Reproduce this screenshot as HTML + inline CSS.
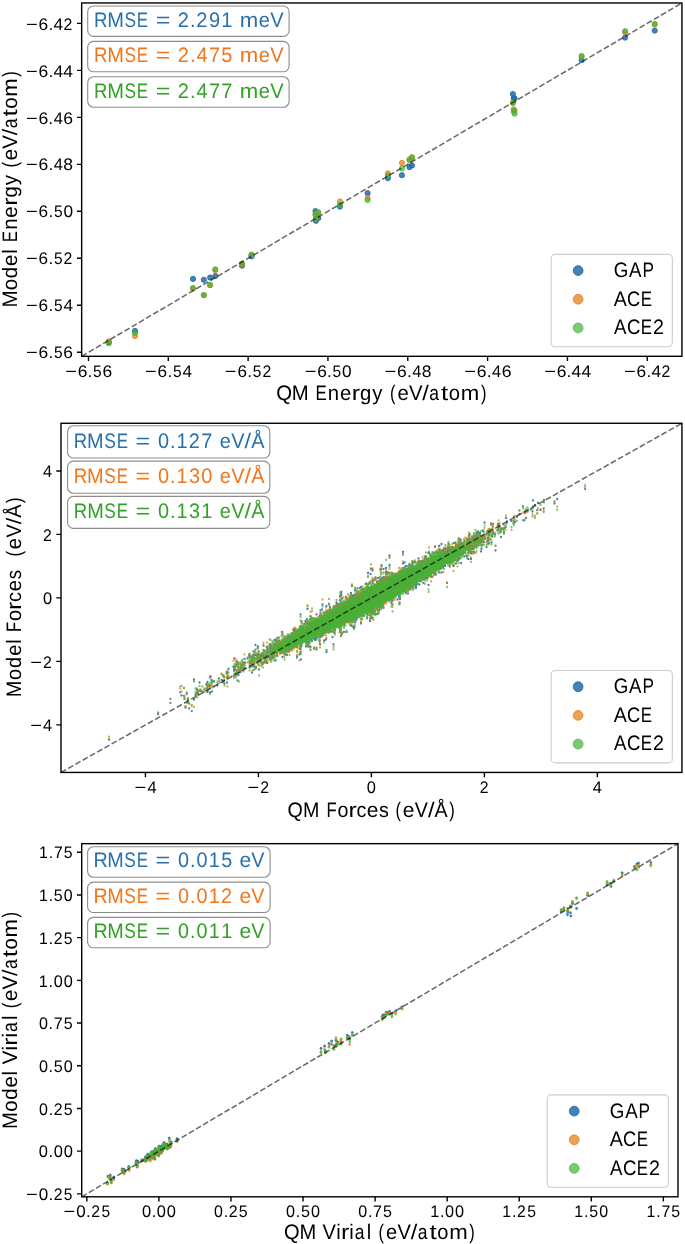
<!DOCTYPE html><html><head><meta charset="utf-8"><title>Parity plots</title><style>html,body{margin:0;padding:0;background:#fff;width:685px;height:1244px;overflow:hidden}svg{display:block;will-change:transform}text{font-family:"Liberation Sans",sans-serif;white-space:pre;text-rendering:geometricPrecision}</style></head><body><svg xml:space="preserve" width="685" height="1244" viewBox="0 0 685 1244" font-family="Liberation Sans, sans-serif">
<rect width="685" height="1244" fill="#fff"/>
<g fill="rgb(33,108,169)" fill-opacity="0.85" stroke="rgb(33,108,169)" stroke-opacity="0.85" stroke-width="1.0"><circle cx="108.8" cy="342.5" r="2.6"/><circle cx="135.0" cy="330.9" r="2.6"/><circle cx="193.0" cy="278.9" r="2.6"/><circle cx="203.8" cy="279.8" r="2.6"/><circle cx="210.1" cy="277.5" r="2.6"/><circle cx="215.3" cy="276.0" r="2.6"/><circle cx="242.0" cy="265.6" r="2.6"/><circle cx="251.5" cy="256.4" r="2.6"/><circle cx="315.5" cy="211.0" r="2.6"/><circle cx="318.3" cy="218.0" r="2.6"/><circle cx="316.0" cy="220.8" r="2.6"/><circle cx="339.9" cy="206.6" r="2.6"/><circle cx="367.6" cy="193.2" r="2.6"/><circle cx="387.9" cy="178.1" r="2.6"/><circle cx="401.9" cy="175.2" r="2.6"/><circle cx="409.5" cy="167.2" r="2.6"/><circle cx="412.0" cy="165.4" r="2.6"/><circle cx="512.9" cy="94.0" r="2.6"/><circle cx="513.7" cy="98.0" r="2.6"/><circle cx="514.6" cy="98.5" r="2.6"/><circle cx="581.6" cy="60.1" r="2.6"/><circle cx="625.1" cy="37.6" r="2.6"/><circle cx="654.7" cy="30.6" r="2.6"/></g>
<g fill="rgb(229,119,16)" fill-opacity="0.7" stroke="rgb(229,119,16)" stroke-opacity="0.7" stroke-width="1.0"><circle cx="108.8" cy="341.2" r="2.6"/><circle cx="135.0" cy="336.1" r="2.6"/><circle cx="193.0" cy="288.6" r="2.6"/><circle cx="203.8" cy="295.3" r="2.6"/><circle cx="210.1" cy="285.2" r="2.6"/><circle cx="215.3" cy="270.2" r="2.6"/><circle cx="242.0" cy="264.2" r="2.6"/><circle cx="251.5" cy="255.0" r="2.6"/><circle cx="315.5" cy="214.2" r="2.6"/><circle cx="318.3" cy="213.0" r="2.6"/><circle cx="316.0" cy="218.6" r="2.6"/><circle cx="339.9" cy="201.4" r="2.6"/><circle cx="367.6" cy="198.1" r="2.6"/><circle cx="387.9" cy="173.3" r="2.6"/><circle cx="401.9" cy="162.9" r="2.6"/><circle cx="409.5" cy="159.3" r="2.6"/><circle cx="412.0" cy="158.0" r="2.6"/><circle cx="512.9" cy="103.0" r="2.6"/><circle cx="513.7" cy="111.5" r="2.6"/><circle cx="514.6" cy="110.7" r="2.6"/><circle cx="581.6" cy="55.8" r="2.6"/><circle cx="625.1" cy="32.1" r="2.6"/><circle cx="654.7" cy="24.6" r="2.6"/></g>
<g fill="rgb(65,181,55)" fill-opacity="0.7" stroke="rgb(65,181,55)" stroke-opacity="0.7" stroke-width="1.0"><circle cx="108.8" cy="343.2" r="2.6"/><circle cx="135.0" cy="333.0" r="2.6"/><circle cx="193.0" cy="288.0" r="2.6"/><circle cx="203.8" cy="295.0" r="2.6"/><circle cx="210.1" cy="284.8" r="2.6"/><circle cx="215.3" cy="269.3" r="2.6"/><circle cx="242.0" cy="263.6" r="2.6"/><circle cx="251.5" cy="254.5" r="2.6"/><circle cx="315.5" cy="214.6" r="2.6"/><circle cx="318.3" cy="212.2" r="2.6"/><circle cx="316.0" cy="218.1" r="2.6"/><circle cx="339.9" cy="204.9" r="2.6"/><circle cx="367.6" cy="200.1" r="2.6"/><circle cx="387.9" cy="175.5" r="2.6"/><circle cx="401.9" cy="168.5" r="2.6"/><circle cx="409.5" cy="160.3" r="2.6"/><circle cx="412.0" cy="157.1" r="2.6"/><circle cx="512.9" cy="102.8" r="2.6"/><circle cx="513.7" cy="109.3" r="2.6"/><circle cx="514.6" cy="113.7" r="2.6"/><circle cx="581.6" cy="56.9" r="2.6"/><circle cx="625.1" cy="31.2" r="2.6"/><circle cx="654.7" cy="23.8" r="2.6"/></g>
<line x1="81.66" y1="356.30" x2="681.93" y2="2.96" stroke="#000" stroke-opacity="0.6" stroke-width="1.5" stroke-dasharray="5.8 2.5"/>
<rect x="81.66" y="2.96" width="600.27" height="353.34" fill="none" stroke="#000" stroke-width="1.4"/>
<path d="M88.46 356.30v4.7M168.29 356.30v4.7M248.12 356.30v4.7M327.94 356.30v4.7M407.77 356.30v4.7M487.60 356.30v4.7M567.43 356.30v4.7M647.26 356.30v4.7M81.66 352.26h-4.7M81.66 305.28h-4.7M81.66 258.30h-4.7M81.66 211.32h-4.7M81.66 164.34h-4.7M81.66 117.36h-4.7M81.66 70.38h-4.7M81.66 23.40h-4.7" stroke="#000" stroke-width="1.4" fill="none"/>
<text transform="scale(1.0375,1)" x="62.87 74.94 84.44 89.73 98.85" y="376.60" font-size="16.78" fill="#000"><tspan textLength="11.31" lengthAdjust="spacingAndGlyphs">−</tspan>6.<tspan textLength="8.33" lengthAdjust="spacingAndGlyphs">5</tspan>6</text>
<text transform="scale(1.0283,1)" x="141.07 153.28 162.85 168.17 177.41" y="376.60" font-size="16.78" fill="#000"><tspan textLength="11.41" lengthAdjust="spacingAndGlyphs">−</tspan>6.<tspan textLength="8.40" lengthAdjust="spacingAndGlyphs">5</tspan>4</text>
<text transform="scale(1.0212,1)" x="220.21 232.54 242.16 247.49 256.98" y="376.60" font-size="16.78" fill="#000"><tspan textLength="11.49" lengthAdjust="spacingAndGlyphs">−</tspan>6.<tspan textLength="8.46" lengthAdjust="spacingAndGlyphs">5</tspan><tspan textLength="8.63" lengthAdjust="spacingAndGlyphs">2</tspan></text>
<text transform="scale(1.0291,1)" x="296.10 308.30 317.87 323.18 332.41" y="376.60" font-size="16.78" fill="#000"><tspan textLength="11.40" lengthAdjust="spacingAndGlyphs">−</tspan>6.<tspan textLength="8.40" lengthAdjust="spacingAndGlyphs">5</tspan>0</text>
<text transform="scale(1.0432,1)" x="368.61 380.58 390.05 395.14 404.37" y="376.60" font-size="16.78" fill="#000"><tspan textLength="11.25" lengthAdjust="spacingAndGlyphs">−</tspan>6.<tspan textLength="8.76" lengthAdjust="spacingAndGlyphs">4</tspan>8</text>
<text transform="scale(1.0493,1)" x="442.56 454.43 463.86 468.93 478.08" y="376.60" font-size="16.78" fill="#000"><tspan textLength="11.18" lengthAdjust="spacingAndGlyphs">−</tspan>6.<tspan textLength="8.71" lengthAdjust="spacingAndGlyphs">4</tspan>6</text>
<text transform="scale(1.0400,1)" x="523.28 535.30 544.79 549.62 559.16" y="376.60" font-size="16.78" fill="#000"><tspan textLength="11.28" lengthAdjust="spacingAndGlyphs">−</tspan>6.44</text>
<text transform="scale(1.0333,1)" x="603.89 616.03 625.56 630.43 640.24" y="376.60" font-size="16.78" fill="#000"><tspan textLength="11.36" lengthAdjust="spacingAndGlyphs">−</tspan>6.4<tspan textLength="8.53" lengthAdjust="spacingAndGlyphs">2</tspan></text>
<text transform="scale(1.0375,1)" x="25.08 37.15 46.66 51.94 61.06" y="358.41" font-size="16.78" fill="#000"><tspan textLength="11.31" lengthAdjust="spacingAndGlyphs">−</tspan>6.<tspan textLength="8.33" lengthAdjust="spacingAndGlyphs">5</tspan>6</text>
<text transform="scale(1.0283,1)" x="25.31 37.52 47.09 52.41 61.65" y="311.43" font-size="16.78" fill="#000"><tspan textLength="11.41" lengthAdjust="spacingAndGlyphs">−</tspan>6.<tspan textLength="8.40" lengthAdjust="spacingAndGlyphs">5</tspan>4</text>
<text transform="scale(1.0212,1)" x="25.48 37.81 47.43 52.77 62.26" y="264.45" font-size="16.78" fill="#000"><tspan textLength="11.49" lengthAdjust="spacingAndGlyphs">−</tspan>6.<tspan textLength="8.46" lengthAdjust="spacingAndGlyphs">5</tspan><tspan textLength="8.63" lengthAdjust="spacingAndGlyphs">2</tspan></text>
<text transform="scale(1.0291,1)" x="25.29 37.49 47.05 52.37 61.60" y="217.47" font-size="16.78" fill="#000"><tspan textLength="11.40" lengthAdjust="spacingAndGlyphs">−</tspan>6.<tspan textLength="8.40" lengthAdjust="spacingAndGlyphs">5</tspan>0</text>
<text transform="scale(1.0432,1)" x="24.95 36.92 46.39 51.47 60.71" y="170.49" font-size="16.78" fill="#000"><tspan textLength="11.25" lengthAdjust="spacingAndGlyphs">−</tspan>6.<tspan textLength="8.76" lengthAdjust="spacingAndGlyphs">4</tspan>8</text>
<text transform="scale(1.0493,1)" x="24.80 36.68 46.10 51.17 60.32" y="123.51" font-size="16.78" fill="#000"><tspan textLength="11.18" lengthAdjust="spacingAndGlyphs">−</tspan>6.<tspan textLength="8.71" lengthAdjust="spacingAndGlyphs">4</tspan>6</text>
<text transform="scale(1.0400,1)" x="25.02 37.05 46.54 51.36 60.91" y="76.53" font-size="16.78" fill="#000"><tspan textLength="11.28" lengthAdjust="spacingAndGlyphs">−</tspan>6.44</text>
<text transform="scale(1.0333,1)" x="25.18 37.32 46.85 51.72 61.53" y="29.55" font-size="16.78" fill="#000"><tspan textLength="11.36" lengthAdjust="spacingAndGlyphs">−</tspan>6.4<tspan textLength="8.53" lengthAdjust="spacingAndGlyphs">2</tspan></text>
<text transform="scale(0.9673,1)" x="285.69 301.74 319.46 326.12 338.92 351.50 363.63 372.22 384.94 396.44 403.24 410.83 422.74 436.62 443.86 455.91 464.01 476.32 497.15" y="400.00" font-size="20.97" fill="#000">QM <tspan textLength="11.66" lengthAdjust="spacingAndGlyphs">E</tspan>ne<tspan textLength="8.56" lengthAdjust="spacingAndGlyphs">r</tspan>gy <tspan textLength="5.67" lengthAdjust="spacingAndGlyphs">(</tspan>eV<tspan textLength="6.79" lengthAdjust="spacingAndGlyphs">/</tspan><tspan textLength="10.08" lengthAdjust="spacingAndGlyphs">a</tspan><tspan textLength="7.46" lengthAdjust="spacingAndGlyphs">t</tspan>o<tspan textLength="19.12" lengthAdjust="spacingAndGlyphs">m</tspan><tspan textLength="5.67" lengthAdjust="spacingAndGlyphs">)</tspan></text>
<text transform="rotate(-90) scale(0.9763,1)" x="-315.01 -297.38 -285.06 -272.41 -260.02 -254.66 -248.04 -235.40 -222.94 -210.87 -202.41 -189.81 -178.39 -171.63 -164.15 -152.37 -138.55 -131.38 -119.45 -111.47 -99.22 -78.58" y="17.20" font-size="20.97" fill="#000">Model <tspan textLength="11.55" lengthAdjust="spacingAndGlyphs">E</tspan>ne<tspan textLength="8.48" lengthAdjust="spacingAndGlyphs">r</tspan>gy <tspan textLength="5.62" lengthAdjust="spacingAndGlyphs">(</tspan>eV<tspan textLength="6.73" lengthAdjust="spacingAndGlyphs">/</tspan><tspan textLength="9.98" lengthAdjust="spacingAndGlyphs">a</tspan><tspan textLength="7.39" lengthAdjust="spacingAndGlyphs">t</tspan>o<tspan textLength="18.94" lengthAdjust="spacingAndGlyphs">m</tspan><tspan textLength="5.62" lengthAdjust="spacingAndGlyphs">)</tspan></text>
<rect x="87.70" y="6.00" width="201.40" height="30.40" rx="5.85" fill="#fff" fill-opacity="0.5" stroke="#000" stroke-opacity="0.45" stroke-width="1.1"/>
<text transform="scale(0.9560,1)" x="98.25 112.09 130.15 143.12 155.79 162.82 179.36 185.90 198.81 205.36 218.54 231.49 244.24 250.72 270.74 282.80" y="26.75" font-size="20.97" fill="rgb(40,112,172)"><tspan textLength="14.09" lengthAdjust="spacingAndGlyphs">R</tspan>M<tspan textLength="12.12" lengthAdjust="spacingAndGlyphs">S</tspan><tspan textLength="11.80" lengthAdjust="spacingAndGlyphs">E</tspan> <tspan textLength="15.34" lengthAdjust="spacingAndGlyphs">=</tspan> 2.291 <tspan textLength="19.34" lengthAdjust="spacingAndGlyphs">m</tspan>eV</text>
<rect x="87.70" y="41.40" width="201.40" height="30.40" rx="5.85" fill="#fff" fill-opacity="0.5" stroke="#000" stroke-opacity="0.45" stroke-width="1.1"/>
<text transform="scale(0.9540,1)" x="98.46 112.34 130.43 143.42 156.12 163.16 179.74 186.30 199.23 206.07 219.04 232.00 244.76 251.24 271.32 283.41" y="62.10" font-size="20.97" fill="rgb(240,118,28)"><tspan textLength="14.11" lengthAdjust="spacingAndGlyphs">R</tspan>M<tspan textLength="12.14" lengthAdjust="spacingAndGlyphs">S</tspan><tspan textLength="11.82" lengthAdjust="spacingAndGlyphs">E</tspan> <tspan textLength="15.37" lengthAdjust="spacingAndGlyphs">=</tspan> 2.475 <tspan textLength="19.38" lengthAdjust="spacingAndGlyphs">m</tspan>eV</text>
<rect x="87.70" y="76.80" width="201.40" height="30.40" rx="5.85" fill="#fff" fill-opacity="0.5" stroke="#000" stroke-opacity="0.45" stroke-width="1.1"/>
<text transform="scale(0.9563,1)" x="98.22 112.05 130.11 143.07 155.74 162.77 179.30 185.84 198.75 205.56 218.50 231.47 244.16 250.64 270.66 282.71" y="97.50" font-size="20.97" fill="rgb(52,160,40)"><tspan textLength="14.08" lengthAdjust="spacingAndGlyphs">R</tspan>M<tspan textLength="12.11" lengthAdjust="spacingAndGlyphs">S</tspan><tspan textLength="11.79" lengthAdjust="spacingAndGlyphs">E</tspan> <tspan textLength="15.34" lengthAdjust="spacingAndGlyphs">=</tspan> 2.477 <tspan textLength="19.34" lengthAdjust="spacingAndGlyphs">m</tspan>eV</text>
<rect x="551.13" y="254.40" width="121.20" height="92.30" rx="3.9" fill="#fff" fill-opacity="0.8" stroke="#ccc" stroke-width="1.1"/>
<circle cx="578.13" cy="270.60" r="4.9" fill="rgb(33,108,169)" fill-opacity="0.85" stroke="rgb(33,108,169)" stroke-opacity="0.85" stroke-width="1"/>
<text transform="scale(0.8936,1)" x="686.87 703.97 718.99" y="277.00" font-size="20.97" fill="#000">GA<tspan textLength="12.89" lengthAdjust="spacingAndGlyphs">P</tspan></text>
<circle cx="578.13" cy="299.25" r="4.9" fill="rgb(229,119,16)" fill-opacity="0.7" stroke="rgb(229,119,16)" stroke-opacity="0.7" stroke-width="1"/>
<text transform="scale(0.8732,1)" x="702.79 718.05 733.74" y="305.65" font-size="20.97" fill="#000"><tspan textLength="15.01" lengthAdjust="spacingAndGlyphs">A</tspan>C<tspan textLength="12.92" lengthAdjust="spacingAndGlyphs">E</tspan></text>
<circle cx="578.13" cy="327.90" r="4.9" fill="rgb(65,181,55)" fill-opacity="0.7" stroke="rgb(65,181,55)" stroke-opacity="0.7" stroke-width="1"/>
<text transform="scale(0.8873,1)" x="692.02 706.51 722.08 735.86" y="334.30" font-size="20.97" fill="#000">AC<tspan textLength="12.71" lengthAdjust="spacingAndGlyphs">E</tspan><tspan textLength="12.41" lengthAdjust="spacingAndGlyphs">2</tspan></text>
<path d="M181.5 695.5h0M184.5 698.5h0M185.5 707.5h0M187.5 702.5h0M188.0 700.0h0M194.0 679.5h0M194.0 699.5h0M195.5 695.0h0M196.0 694.0h0M197.0 693.0h0M198.0 693.5h0M198.5 691.0h0M199.5 682.5h0M200.5 691.0h0M202.5 691.5h0M204.5 689.5h0M206.5 684.0h0M207.0 688.0h0M207.5 682.0h0M207.5 692.0h0M208.0 685.5h0M209.5 686.0h0M210.0 677.5h0M210.0 692.5h0M210.5 676.5h0M211.5 680.0h0M212.0 681.5h0M212.0 691.5h0M214.0 681.5h0M217.5 685.5h0M219.0 678.5h0M221.5 680.0h0M223.0 681.0h0M223.5 676.5h0M224.0 680.5h0M224.5 683.5h0M226.5 673.0h0M227.0 682.5h0M227.5 672.5h0M227.5 676.5h0M228.5 669.0h0M233.5 667.0h0M234.0 670.0h0M234.0 670.5h0M234.5 658.5h0M234.5 669.0h0M234.5 676.0h0M235.0 667.5h0M235.0 669.5h0M236.0 673.5h0M236.0 674.0h0M236.5 662.0h0M236.5 665.0h0M237.0 670.5h0M237.5 680.5h0M238.0 664.0h0M238.5 667.0h0M238.5 675.0h0M239.0 672.5h0M240.0 669.5h0M240.5 664.5h0M240.5 671.0h0M240.5 672.0h0M241.0 668.0h0M242.0 665.5h0M243.0 663.0h0M243.0 664.0h0M243.5 667.5h0M243.5 668.5h0M244.5 659.0h0M244.5 668.0h0M245.0 662.5h0M247.5 658.5h0M249.0 656.0h0M249.5 654.0h0M249.5 661.5h0M249.5 667.5h0M250.0 656.5h0M250.0 663.5h0M250.5 663.5h0M251.5 658.0h0M252.0 659.0h0M252.0 661.0h0M252.0 661.5h0M252.0 662.5h0M252.0 663.0h0M252.0 672.5h0M252.5 658.0h0M252.5 665.0h0M253.0 655.5h0M253.0 657.5h0M253.5 651.5h0M253.5 655.0h0M253.5 657.0h0M253.5 666.0h0M254.0 666.5h0M254.5 658.0h0M254.5 660.0h0M254.5 662.5h0M255.0 655.0h0M255.5 645.0h0M255.5 668.5h0M256.0 655.0h0M256.0 667.0h0M257.0 655.5h0M257.0 658.5h0M257.5 654.0h0M257.5 654.5h0M257.5 663.5h0M258.0 646.5h0M258.0 660.5h0M258.5 651.5h0M258.5 655.0h0M258.5 657.5h0M259.0 655.0h0M259.0 669.5h0M259.5 656.5h0M260.0 657.0h0M260.0 659.0h0M261.0 655.0h0M261.0 657.5h0M261.0 659.5h0M261.5 655.0h0M261.5 656.5h0M262.5 654.0h0M262.5 656.5h0M262.5 664.5h0M263.0 658.5h0M263.0 663.0h0M263.5 645.5h0M263.5 654.5h0M263.5 656.0h0M264.0 651.0h0M264.5 661.0h0M265.0 658.5h0M265.0 662.0h0M266.0 655.5h0M266.0 656.0h0M266.0 661.5h0M266.5 653.0h0M266.5 654.0h0M267.0 647.0h0M267.0 652.0h0M267.0 656.5h0M267.0 663.0h0M267.5 649.0h0M267.5 651.5h0M267.5 653.5h0M267.5 656.5h0M268.0 652.5h0M268.5 656.0h0M268.5 657.0h0M269.5 646.5h0M269.5 648.0h0M269.5 657.0h0M270.0 650.5h0M270.0 651.0h0M270.0 651.5h0M270.0 652.0h0M270.5 644.5h0M270.5 655.0h0M270.5 658.0h0M270.5 659.5h0M271.0 646.0h0M271.0 646.5h0M271.0 648.0h0M271.0 654.0h0M271.0 654.5h0M271.0 655.0h0M271.5 658.0h0M272.5 651.5h0M272.5 656.0h0M273.0 651.0h0M273.0 651.5h0M273.0 652.0h0M273.0 652.5h0M273.0 658.0h0M273.5 645.0h0M273.5 648.0h0M273.5 650.5h0M273.5 653.5h0M273.5 657.0h0M273.5 657.5h0M274.0 646.5h0M274.0 647.0h0M274.0 653.5h0M274.5 640.0h0M274.5 645.0h0M274.5 646.5h0M274.5 647.5h0M274.5 650.5h0M274.5 655.0h0M275.5 640.0h0M275.5 644.5h0M275.5 649.5h0M275.5 660.5h0M276.0 640.0h0M276.0 644.5h0M276.0 648.5h0M276.0 649.0h0M276.5 644.0h0M277.0 642.0h0M277.0 644.5h0M277.0 646.0h0M277.0 648.0h0M277.0 651.5h0M277.0 652.0h0M277.0 653.0h0M277.0 655.5h0M277.5 645.0h0M277.5 648.0h0M277.5 651.0h0M277.5 651.5h0M278.5 637.5h0M278.5 644.5h0M278.5 645.0h0M278.5 651.0h0M279.0 641.0h0M279.0 644.5h0M279.0 645.0h0M279.0 651.0h0M279.5 644.0h0M279.5 649.0h0M280.0 649.0h0M280.0 650.5h0M280.5 642.5h0M280.5 644.0h0M281.0 649.0h0M281.0 651.5h0M281.5 642.5h0M281.5 644.5h0M281.5 649.0h0M281.5 651.5h0M281.5 652.5h0M282.0 632.0h0M282.0 643.0h0M282.0 649.0h0M282.0 650.5h0M282.5 634.5h0M282.5 642.0h0M282.5 657.0h0M283.0 641.5h0M283.0 645.5h0M283.0 650.0h0M283.5 646.0h0M283.5 650.5h0M284.0 639.0h0M284.0 642.0h0M284.0 651.0h0M284.5 639.0h0M284.5 644.5h0M285.0 644.5h0M285.0 646.0h0M285.0 653.5h0M285.0 654.0h0M285.0 654.5h0M285.5 646.0h0M286.0 638.5h0M286.0 648.0h0M286.5 638.0h0M286.5 651.5h0M287.0 649.0h0M287.0 655.0h0M287.5 638.5h0M287.5 645.5h0M288.0 636.5h0M288.0 638.5h0M288.0 646.0h0M288.5 636.0h0M288.5 637.0h0M288.5 640.5h0M288.5 650.0h0M289.0 651.5h0M289.5 638.5h0M289.5 646.5h0M289.5 650.0h0M289.5 650.5h0M290.0 636.5h0M290.0 637.0h0M290.5 649.5h0M291.5 636.5h0M291.5 644.0h0M291.5 649.0h0M292.0 633.5h0M292.0 644.0h0M292.0 645.0h0M292.0 645.5h0M292.0 646.5h0M292.5 645.0h0M293.0 633.5h0M293.0 634.5h0M293.0 636.5h0M293.0 645.5h0M293.0 646.5h0M293.5 635.5h0M294.0 630.5h0M294.0 633.0h0M294.5 629.0h0M294.5 630.5h0M294.5 633.0h0M294.5 646.5h0M295.0 629.0h0M295.0 646.5h0M295.5 632.5h0M295.5 633.0h0M296.0 631.0h0M296.0 632.5h0M296.0 634.5h0M296.5 631.0h0M296.5 631.5h0M296.5 646.0h0M297.0 631.5h0M297.0 633.0h0M297.0 634.5h0M297.0 647.0h0M297.0 656.5h0M297.5 631.0h0M297.5 643.5h0M297.5 644.5h0M298.0 643.5h0M298.5 631.0h0M299.0 629.0h0M299.5 654.5h0M300.0 626.5h0M300.0 631.5h0M300.0 649.0h0M300.5 614.5h0M300.5 646.0h0M300.5 647.5h0M300.5 652.0h0M301.0 627.0h0M301.0 643.5h0M301.0 659.5h0M301.5 621.5h0M301.5 645.5h0M302.0 626.5h0M302.5 643.0h0M303.0 626.5h0M304.5 624.5h0M304.5 639.0h0M304.5 640.0h0M305.0 638.5h0M305.0 641.5h0M305.5 621.0h0M305.5 627.0h0M306.0 646.0h0M306.5 622.5h0M306.5 627.0h0M306.5 641.5h0M306.5 643.0h0M307.0 619.5h0M307.0 639.0h0M307.5 609.0h0M307.5 623.0h0M308.0 641.5h0M308.0 644.5h0M308.0 645.5h0M308.5 641.5h0M308.5 646.5h0M309.5 639.5h0M309.5 640.5h0M309.5 643.0h0M310.0 619.5h0M310.0 622.5h0M310.0 640.5h0M310.5 616.5h0M310.5 622.0h0M310.5 647.0h0M311.0 638.0h0M311.0 640.0h0M311.5 622.0h0M312.0 618.0h0M312.0 637.5h0M312.0 638.5h0M312.0 641.0h0M314.0 638.5h0M314.0 648.5h0M314.5 618.5h0M314.5 639.5h0M315.0 620.0h0M315.0 638.0h0M315.0 640.0h0M315.5 635.0h0M316.0 634.5h0M316.0 638.0h0M316.5 614.5h0M316.5 636.5h0M316.5 638.5h0M316.5 649.5h0M317.0 633.5h0M317.5 619.5h0M317.5 636.5h0M318.0 619.0h0M318.0 634.0h0M319.5 636.0h0M319.5 641.5h0M320.0 615.5h0M320.0 617.0h0M320.0 644.0h0M320.5 610.5h0M320.5 616.0h0M320.5 618.0h0M320.5 633.5h0M320.5 636.5h0M320.5 637.0h0M321.0 616.0h0M321.0 616.5h0M321.0 617.0h0M321.0 635.5h0M321.5 634.5h0M322.0 609.5h0M322.0 635.5h0M322.5 604.5h0M322.5 634.5h0M322.5 635.5h0M323.0 617.0h0M323.0 633.0h0M323.5 612.5h0M323.5 617.5h0M324.0 615.0h0M324.0 632.0h0M324.0 640.5h0M324.5 616.0h0M324.5 633.0h0M326.0 612.5h0M326.0 615.5h0M326.0 639.5h0M326.5 606.0h0M326.5 613.5h0M326.5 652.0h0M327.0 612.5h0M327.0 614.0h0M327.5 631.5h0M328.0 612.0h0M328.0 631.5h0M328.5 630.0h0M328.5 632.5h0M329.0 604.5h0M329.5 612.0h0M330.0 607.0h0M330.0 610.0h0M330.0 612.0h0M330.0 612.5h0M330.0 631.5h0M330.5 609.5h0M330.5 610.5h0M330.5 627.5h0M330.5 630.5h0M331.5 610.5h0M331.5 627.5h0M332.0 631.5h0M332.5 637.0h0M333.5 608.0h0M333.5 644.5h0M334.0 609.5h0M334.0 632.5h0M334.5 606.5h0M334.5 629.0h0M335.0 630.5h0M335.5 626.0h0M336.5 602.5h0M336.5 604.5h0M336.5 606.5h0M337.0 606.0h0M337.0 607.0h0M338.0 608.0h0M338.5 604.0h0M338.5 606.5h0M338.5 607.5h0M338.5 608.0h0M339.5 606.5h0M339.5 625.5h0M340.0 596.0h0M340.0 600.5h0M340.0 604.5h0M340.0 605.0h0M340.0 606.0h0M340.0 625.5h0M340.0 629.5h0M340.0 630.0h0M341.0 594.0h0M341.0 603.0h0M341.0 624.5h0M341.0 627.0h0M341.0 632.5h0M341.0 636.0h0M341.5 592.0h0M342.0 598.5h0M342.0 633.5h0M342.5 622.0h0M343.0 623.5h0M343.5 622.5h0M343.5 623.0h0M343.5 624.5h0M344.0 621.0h0M344.0 623.0h0M344.0 624.0h0M344.0 632.0h0M344.5 602.5h0M344.5 604.0h0M344.5 604.5h0M344.5 620.5h0M344.5 621.0h0M344.5 623.5h0M345.0 603.5h0M345.0 619.5h0M345.0 620.0h0M345.0 623.0h0M345.5 603.5h0M345.5 604.5h0M345.5 620.0h0M346.0 597.0h0M346.0 603.5h0M346.0 621.0h0M346.0 621.5h0M346.5 598.5h0M346.5 602.0h0M346.5 632.0h0M347.0 602.5h0M347.0 603.5h0M347.5 602.0h0M347.5 622.0h0M348.0 601.0h0M348.0 602.0h0M348.0 602.5h0M348.5 600.0h0M348.5 600.5h0M348.5 601.5h0M350.0 596.5h0M350.0 597.5h0M350.0 598.5h0M350.0 619.5h0M350.5 598.0h0M350.5 618.5h0M350.5 621.0h0M351.0 593.0h0M351.0 595.5h0M351.0 618.0h0M351.0 619.0h0M351.0 625.5h0M351.5 595.5h0M351.5 618.5h0M352.0 586.0h0M352.0 621.0h0M352.5 597.0h0M352.5 599.0h0M352.5 599.5h0M352.5 620.5h0M352.5 621.5h0M352.5 622.0h0M352.5 626.5h0M353.0 595.5h0M353.0 598.5h0M353.5 598.0h0M353.5 619.0h0M354.0 596.0h0M354.0 597.5h0M354.0 598.0h0M354.0 617.5h0M354.0 628.0h0M354.5 597.5h0M354.5 618.0h0M354.5 619.0h0M354.5 627.0h0M355.0 590.5h0M355.0 595.0h0M355.0 598.0h0M355.0 620.0h0M355.5 622.0h0M356.0 595.0h0M356.5 595.0h0M356.5 617.5h0M356.5 619.5h0M357.0 595.0h0M357.0 596.5h0M357.5 588.5h0M357.5 593.0h0M357.5 594.5h0M357.5 615.5h0M357.5 616.0h0M358.0 595.0h0M358.0 596.0h0M358.5 595.0h0M358.5 596.5h0M358.5 617.0h0M359.0 595.0h0M359.0 595.5h0M359.0 596.5h0M359.5 595.0h0M359.5 595.5h0M360.0 588.0h0M360.5 594.0h0M360.5 595.0h0M361.0 587.0h0M361.0 593.0h0M361.0 594.5h0M361.0 623.5h0M361.5 615.0h0M361.5 618.5h0M362.0 591.0h0M362.0 619.0h0M362.5 589.0h0M362.5 591.0h0M363.0 591.5h0M363.5 589.5h0M363.5 591.0h0M363.5 613.0h0M364.0 613.0h0M364.0 613.5h0M364.0 616.0h0M366.0 583.5h0M366.5 587.5h0M366.5 613.0h0M367.0 587.5h0M367.0 611.0h0M367.0 614.0h0M367.0 617.5h0M368.0 573.0h0M368.0 584.5h0M368.0 588.0h0M368.0 614.5h0M368.5 587.5h0M368.5 588.5h0M369.0 589.0h0M369.5 583.0h0M370.0 621.0h0M370.5 574.0h0M370.5 587.5h0M370.5 618.5h0M371.0 569.0h0M371.0 587.0h0M371.0 611.0h0M371.0 613.5h0M371.0 616.0h0M372.0 611.5h0M372.5 570.5h0M372.5 582.0h0M372.5 583.0h0M372.5 613.5h0M372.5 618.0h0M373.0 608.5h0M373.5 606.5h0M373.5 612.0h0M373.5 614.0h0M374.0 580.0h0M374.0 586.0h0M374.5 584.5h0M374.5 607.0h0M374.5 608.0h0M375.0 606.0h0M375.0 606.5h0M375.0 611.0h0M375.5 577.5h0M375.5 614.0h0M376.0 585.0h0M376.5 606.5h0M376.5 609.0h0M377.0 581.5h0M377.0 582.5h0M377.5 582.5h0M377.5 583.0h0M377.5 614.0h0M378.0 578.0h0M378.0 610.0h0M379.0 610.0h0M379.5 581.0h0M380.0 579.5h0M380.5 569.0h0M380.5 582.0h0M380.5 582.5h0M381.0 569.5h0M381.0 579.0h0M381.0 581.0h0M381.0 607.5h0M381.5 565.5h0M381.5 582.0h0M382.0 604.5h0M382.0 606.5h0M382.5 602.0h0M382.5 605.5h0M383.0 577.5h0M383.0 579.0h0M383.0 580.5h0M383.0 582.0h0M383.0 601.5h0M383.0 604.5h0M383.5 569.0h0M383.5 581.0h0M383.5 582.5h0M383.5 608.0h0M384.0 579.5h0M384.0 581.0h0M384.0 601.5h0M384.0 602.5h0M384.5 577.0h0M384.5 577.5h0M384.5 602.5h0M385.0 599.5h0M385.5 579.0h0M385.5 599.5h0M385.5 602.0h0M386.0 568.0h0M386.0 572.0h0M386.5 574.0h0M386.5 578.5h0M387.0 577.0h0M387.0 599.5h0M387.0 600.0h0M387.5 572.5h0M387.5 577.0h0M388.0 600.0h0M388.5 600.5h0M389.0 573.0h0M389.5 555.5h0M389.5 565.0h0M389.5 578.0h0M390.0 577.5h0M391.5 573.5h0M391.5 598.0h0M391.5 603.0h0M392.0 576.5h0M392.0 598.0h0M392.0 600.5h0M392.0 601.0h0M392.5 573.5h0M392.5 575.5h0M392.5 576.0h0M392.5 604.5h0M393.0 576.0h0M395.0 576.0h0M395.5 574.0h0M395.5 575.0h0M395.5 595.0h0M396.0 575.5h0M397.5 599.5h0M399.0 571.5h0M399.0 596.5h0M399.5 573.0h0M399.5 592.5h0M399.5 598.0h0M399.5 603.5h0M400.0 594.5h0M400.0 599.0h0M400.5 593.0h0M401.0 571.0h0M401.0 572.5h0M401.0 573.0h0M401.0 591.0h0M401.5 571.0h0M401.5 590.0h0M402.0 571.0h0M402.0 591.5h0M402.5 572.5h0M403.0 552.0h0M403.0 563.5h0M403.0 571.5h0M403.5 571.0h0M403.5 571.5h0M404.0 568.0h0M404.0 590.0h0M404.0 591.0h0M404.0 591.5h0M404.5 562.5h0M404.5 570.0h0M405.0 570.0h0M405.0 590.0h0M405.5 566.5h0M406.0 590.0h0M406.0 591.5h0M406.0 592.5h0M406.5 566.0h0M407.0 569.5h0M407.5 569.0h0M408.0 570.0h0M408.0 593.5h0M408.5 587.5h0M409.0 566.0h0M409.0 587.0h0M409.0 589.0h0M409.5 567.5h0M409.5 568.0h0M409.5 569.0h0M409.5 588.5h0M410.0 565.5h0M410.0 568.5h0M410.0 586.5h0M410.5 565.5h0M410.5 587.5h0M410.5 589.0h0M411.0 567.0h0M411.5 587.0h0M412.5 562.0h0M412.5 563.5h0M412.5 565.0h0M412.5 584.0h0M413.0 567.0h0M413.0 583.5h0M413.0 584.5h0M413.5 582.5h0M413.5 584.0h0M413.5 585.0h0M413.5 587.5h0M414.0 582.5h0M414.0 584.5h0M414.5 562.0h0M414.5 584.0h0M415.0 562.5h0M415.0 584.5h0M415.0 585.0h0M416.0 581.5h0M416.0 586.0h0M416.0 586.5h0M416.0 588.0h0M416.5 566.0h0M416.5 581.5h0M417.0 566.0h0M417.0 581.5h0M417.5 566.0h0M417.5 580.5h0M417.5 581.5h0M417.5 584.0h0M418.0 564.5h0M418.0 580.5h0M418.0 581.0h0M418.5 558.5h0M419.0 561.0h0M419.0 563.0h0M419.0 565.0h0M419.0 578.5h0M419.0 581.0h0M419.5 565.0h0M419.5 580.5h0M419.5 584.5h0M420.0 562.0h0M420.0 563.0h0M420.5 579.5h0M420.5 581.0h0M421.0 561.5h0M421.0 578.5h0M421.5 561.0h0M421.5 562.5h0M421.5 578.0h0M422.0 579.5h0M422.5 561.0h0M422.5 576.5h0M423.0 561.0h0M423.0 562.0h0M423.0 576.5h0M423.0 578.0h0M423.5 562.0h0M423.5 563.0h0M423.5 563.5h0M423.5 577.5h0M423.5 578.0h0M423.5 583.0h0M424.0 563.5h0M424.0 576.5h0M424.0 579.5h0M424.5 561.0h0M424.5 577.0h0M425.0 558.0h0M425.0 563.0h0M425.0 575.5h0M425.5 559.0h0M425.5 562.0h0M425.5 563.0h0M425.5 576.0h0M425.5 578.0h0M426.0 556.5h0M426.0 560.5h0M426.0 562.0h0M426.0 576.0h0M426.5 559.5h0M426.5 575.5h0M427.0 561.5h0M427.0 577.5h0M427.0 578.5h0M427.5 559.0h0M427.5 560.5h0M428.0 559.0h0M428.0 559.5h0M428.0 576.5h0M428.5 559.5h0M428.5 585.0h0M429.0 553.0h0M429.0 575.0h0M430.0 575.5h0M430.5 554.5h0M430.5 555.0h0M430.5 556.5h0M430.5 576.5h0M431.0 573.5h0M432.0 577.0h0M432.5 552.5h0M433.0 571.5h0M433.5 573.0h0M434.0 554.0h0M434.5 572.5h0M434.5 573.5h0M434.5 574.5h0M435.0 547.0h0M435.0 569.0h0M435.5 552.5h0M435.5 569.0h0M436.0 569.5h0M436.0 574.5h0M436.5 552.5h0M436.5 568.0h0M437.0 568.0h0M437.5 568.5h0M438.0 553.0h0M438.0 568.5h0M438.5 568.5h0M439.0 546.0h0M439.0 554.5h0M439.0 572.5h0M439.5 549.5h0M439.5 550.5h0M439.5 553.5h0M439.5 555.5h0M440.0 551.0h0M440.5 568.5h0M441.0 553.5h0M441.0 555.0h0M441.5 544.0h0M441.5 572.5h0M442.0 551.5h0M442.5 566.0h0M443.0 550.0h0M443.0 552.5h0M443.0 567.5h0M443.5 551.0h0M443.5 553.5h0M443.5 554.0h0M443.5 566.0h0M444.0 548.5h0M444.0 551.0h0M444.5 553.0h0M444.5 558.5h0M444.5 559.0h0M445.0 552.0h0M445.0 552.5h0M445.0 566.0h0M445.5 548.5h0M445.5 558.5h0M446.0 552.0h0M446.5 552.5h0M446.5 558.5h0M447.0 549.5h0M447.0 551.0h0M447.0 551.5h0M447.0 558.0h0M447.0 583.0h0M447.5 549.0h0M447.5 558.0h0M447.5 559.0h0M447.5 560.5h0M448.0 547.0h0M448.0 558.0h0M448.0 558.5h0M448.0 559.0h0M448.0 560.0h0M448.5 544.0h0M448.5 548.0h0M448.5 549.5h0M448.5 550.5h0M448.5 559.5h0M448.5 561.0h0M449.0 561.0h0M449.5 548.0h0M449.5 549.5h0M449.5 550.0h0M449.5 563.5h0M449.5 566.0h0M450.0 550.5h0M450.0 551.5h0M450.0 562.0h0M450.5 559.0h0M451.0 550.0h0M451.0 550.5h0M451.5 547.5h0M451.5 550.0h0M451.5 558.5h0M451.5 559.0h0M452.0 547.0h0M452.0 547.5h0M452.0 562.0h0M452.5 550.5h0M452.5 560.0h0M452.5 560.5h0M453.0 549.5h0M453.0 556.0h0M453.0 559.0h0M453.5 549.0h0M453.5 549.5h0M453.5 556.0h0M453.5 556.5h0M453.5 559.5h0M453.5 566.0h0M454.0 543.0h0M454.5 548.5h0M454.5 557.5h0M455.0 557.0h0M455.5 543.0h0M455.5 548.0h0M455.5 556.0h0M455.5 560.0h0M456.0 545.5h0M456.0 548.5h0M456.0 556.5h0M456.0 563.5h0M457.0 548.0h0M457.0 556.0h0M457.0 556.5h0M457.5 545.0h0M457.5 548.0h0M457.5 557.0h0M457.5 561.0h0M458.0 545.5h0M458.0 546.5h0M458.0 557.5h0M458.0 559.5h0M458.5 543.5h0M458.5 547.5h0M458.5 556.5h0M458.5 557.5h0M459.0 542.5h0M459.0 559.0h0M459.5 540.0h0M459.5 544.0h0M459.5 554.5h0M459.5 556.0h0M460.0 545.5h0M460.0 554.0h0M460.5 539.5h0M460.5 546.0h0M460.5 550.5h0M461.0 544.5h0M461.0 551.0h0M461.0 563.0h0M461.5 543.0h0M462.0 549.0h0M462.0 550.5h0M462.0 551.0h0M462.0 552.0h0M462.5 543.5h0M462.5 549.0h0M462.5 551.5h0M463.0 548.0h0M463.0 553.0h0M463.5 544.0h0M463.5 546.0h0M463.5 548.0h0M463.5 551.5h0M464.0 543.5h0M464.0 546.5h0M464.0 552.0h0M464.5 541.5h0M464.5 545.5h0M464.5 546.0h0M464.5 551.0h0M464.5 556.5h0M465.0 546.5h0M465.0 553.0h0M465.5 548.0h0M465.5 549.0h0M466.0 547.0h0M466.5 546.5h0M466.5 549.0h0M466.5 555.5h0M467.0 539.5h0M467.0 543.0h0M467.0 544.0h0M467.0 547.0h0M467.0 549.0h0M467.0 556.5h0M467.5 545.5h0M467.5 546.0h0M468.0 541.5h0M468.0 546.5h0M468.5 539.5h0M468.5 547.0h0M468.5 550.5h0M468.5 552.5h0M468.5 559.0h0M469.0 535.5h0M469.0 538.5h0M469.0 539.0h0M469.0 549.0h0M469.0 550.0h0M469.0 550.5h0M469.5 534.5h0M469.5 540.0h0M469.5 542.0h0M469.5 545.5h0M469.5 546.0h0M469.5 548.0h0M470.0 542.5h0M470.0 546.0h0M470.0 551.5h0M470.5 539.0h0M470.5 543.5h0M470.5 546.0h0M470.5 547.0h0M471.0 547.0h0M471.0 552.0h0M471.0 553.5h0M471.0 559.0h0M471.5 541.0h0M471.5 542.0h0M471.5 542.5h0M471.5 549.0h0M472.0 536.5h0M472.0 540.0h0M472.0 542.0h0M472.0 547.5h0M472.5 541.0h0M472.5 545.5h0M472.5 547.0h0M473.0 538.5h0M473.0 547.0h0M473.0 547.5h0M473.0 549.0h0M474.0 537.5h0M474.0 538.5h0M474.0 540.5h0M474.0 542.0h0M474.0 542.5h0M474.0 552.0h0M474.5 536.0h0M474.5 542.0h0M475.0 538.0h0M475.0 546.5h0M475.5 536.0h0M475.5 540.0h0M475.5 542.5h0M475.5 543.5h0M475.5 545.0h0M476.0 538.5h0M476.0 543.0h0M476.5 532.5h0M476.5 534.5h0M476.5 541.0h0M476.5 545.5h0M477.0 536.0h0M477.0 536.5h0M477.0 538.0h0M477.0 539.0h0M477.0 542.0h0M477.5 537.5h0M478.0 531.5h0M478.0 532.5h0M478.0 537.0h0M478.0 539.0h0M478.0 540.0h0M478.5 535.5h0M478.5 536.0h0M478.5 541.5h0M478.5 542.0h0M478.5 545.5h0M479.0 543.0h0M479.5 534.0h0M479.5 537.0h0M480.0 533.0h0M480.0 535.0h0M480.0 536.0h0M480.0 538.0h0M480.0 541.0h0M480.5 541.5h0M481.0 538.5h0M481.0 551.5h0M481.5 538.5h0M481.5 542.5h0M481.5 549.0h0M482.0 539.0h0M482.0 540.0h0M482.0 545.0h0M482.5 539.5h0M482.5 540.5h0M483.0 530.5h0M483.5 531.5h0M484.0 537.0h0M484.0 542.0h0M484.5 522.5h0M485.0 539.0h0M486.5 547.0h0M487.0 533.0h0M487.0 533.5h0M487.5 541.0h0M488.0 531.0h0M488.0 538.0h0M488.5 540.0h0M488.5 542.5h0M488.5 543.0h0M489.0 533.0h0M489.0 535.0h0M489.0 543.5h0M489.5 529.5h0M490.0 530.0h0M490.5 532.5h0M491.0 524.5h0M491.5 535.5h0M491.5 542.5h0M492.5 529.5h0M492.5 536.5h0M493.0 524.0h0M493.0 533.0h0M493.0 534.0h0M495.0 534.5h0M495.5 550.5h0M497.5 530.0h0M498.0 524.0h0M498.5 524.0h0M498.5 528.0h0M499.0 525.0h0M499.5 526.5h0M500.5 532.0h0M501.0 528.5h0M501.0 537.0h0M503.0 529.5h0M504.0 528.5h0M504.0 532.0h0M505.5 527.0h0M506.0 518.0h0M507.0 521.5h0M511.5 521.0h0M513.5 523.5h0M514.0 517.0h0M515.0 522.0h0M517.0 517.0h0M519.5 514.0h0M523.0 506.5h0M523.5 520.5h0M525.0 513.0h0M526.0 518.0h0M527.5 511.0h0M531.0 509.0h0M532.5 511.5h0M535.0 505.0h0M538.0 503.0h0M540.5 510.0h0M544.0 500.0h0M554.5 503.5h0M533.0 500.5h0M537.2 510.2h0M543.7 508.5h0M557.1 499.0h0M585.1 489.1h0M109.0 739.7h0M158.1 714.2h0M170.4 698.8h0M180.2 692.3h0M184.0 695.8h0M186.7 694.0h0M189.2 708.4h0M191.8 711.1h0M197.0 690.0h0" stroke="rgb(33,108,169)" stroke-opacity="0.85" stroke-width="2.3" stroke-linecap="round" fill="none"/>
<path d="M181.5 691.5h0M184.5 696.5h0M185.5 706.5h0M187.5 700.0h0M188.0 698.0h0M194.0 681.0h0M194.0 707.0h0M195.5 692.0h0M196.0 694.5h0M197.0 697.5h0M198.0 691.5h0M198.5 694.5h0M199.5 690.0h0M200.5 689.5h0M202.5 692.0h0M204.5 688.5h0M206.5 685.5h0M207.0 688.0h0M207.5 684.0h0M207.5 690.0h0M208.0 687.0h0M209.5 686.5h0M210.0 685.0h0M210.0 688.0h0M210.5 676.5h0M211.5 686.0h0M212.0 684.0h0M214.0 686.5h0M217.5 681.5h0M219.0 681.0h0M221.5 673.5h0M223.0 675.5h0M223.5 683.0h0M224.0 679.5h0M224.5 677.0h0M226.5 671.5h0M227.0 677.5h0M227.5 675.0h0M227.5 686.5h0M228.5 675.5h0M233.5 661.0h0M234.0 674.0h0M234.5 658.5h0M234.5 666.0h0M234.5 675.5h0M235.0 668.5h0M235.0 674.5h0M236.0 674.0h0M236.0 677.5h0M236.5 660.0h0M236.5 665.5h0M237.0 671.0h0M237.5 671.5h0M238.0 668.5h0M238.5 663.5h0M238.5 665.5h0M239.0 671.0h0M240.0 663.0h0M240.5 663.5h0M240.5 667.0h0M240.5 670.0h0M241.0 665.5h0M242.0 661.5h0M243.0 664.5h0M243.0 669.5h0M243.5 663.5h0M243.5 671.5h0M244.5 654.5h0M244.5 665.5h0M245.0 663.5h0M247.5 657.5h0M249.0 657.0h0M249.5 663.5h0M249.5 665.0h0M250.0 661.5h0M250.0 663.5h0M250.5 666.5h0M251.5 655.5h0M252.0 660.0h0M252.0 662.5h0M252.0 663.0h0M252.0 663.5h0M252.0 664.0h0M252.0 665.0h0M252.5 663.5h0M252.5 670.5h0M253.0 657.0h0M253.0 665.0h0M253.5 655.0h0M253.5 659.0h0M253.5 660.0h0M253.5 670.0h0M254.0 659.5h0M254.5 661.5h0M254.5 662.5h0M254.5 663.0h0M255.0 658.5h0M255.5 650.0h0M255.5 662.0h0M256.0 653.0h0M256.0 668.5h0M257.0 657.0h0M257.0 661.5h0M257.5 654.5h0M257.5 658.0h0M257.5 658.5h0M257.5 659.5h0M258.0 648.5h0M258.0 661.0h0M258.5 658.0h0M258.5 662.5h0M258.5 665.0h0M259.0 656.0h0M259.0 675.5h0M259.5 662.0h0M260.0 658.0h0M260.0 660.5h0M261.0 659.0h0M261.0 662.5h0M261.0 666.0h0M261.5 654.5h0M261.5 658.5h0M261.5 662.5h0M262.5 653.0h0M262.5 658.0h0M262.5 662.0h0M263.0 653.5h0M263.0 663.0h0M263.5 643.0h0M263.5 650.5h0M263.5 658.5h0M264.0 653.5h0M264.5 650.5h0M265.0 657.0h0M265.0 663.0h0M266.0 652.0h0M266.0 656.5h0M266.0 659.0h0M266.5 647.0h0M266.5 656.0h0M267.0 642.5h0M267.0 653.5h0M267.0 657.0h0M267.0 659.5h0M267.5 650.5h0M267.5 656.0h0M267.5 657.5h0M267.5 661.5h0M268.0 651.5h0M268.5 657.0h0M268.5 660.5h0M269.5 639.5h0M269.5 645.0h0M269.5 650.0h0M270.0 645.5h0M270.0 650.0h0M270.0 651.5h0M270.5 652.0h0M270.5 653.5h0M270.5 659.0h0M271.0 648.0h0M271.0 651.0h0M271.0 653.0h0M271.0 654.5h0M271.0 655.0h0M271.0 662.0h0M271.5 647.5h0M271.5 655.5h0M272.0 651.0h0M272.0 656.0h0M272.5 642.0h0M272.5 654.5h0M273.0 648.0h0M273.0 651.0h0M273.0 655.5h0M273.0 657.5h0M273.5 646.0h0M273.5 649.0h0M273.5 650.0h0M273.5 651.0h0M273.5 655.5h0M274.0 646.0h0M274.0 651.0h0M274.5 645.5h0M274.5 648.0h0M274.5 649.5h0M274.5 653.5h0M274.5 654.0h0M274.5 655.0h0M275.5 642.5h0M275.5 646.0h0M275.5 654.5h0M275.5 657.0h0M276.0 646.5h0M276.0 647.5h0M276.0 649.0h0M276.0 653.5h0M276.5 640.0h0M277.0 641.5h0M277.0 645.5h0M277.0 647.5h0M277.0 648.0h0M277.0 652.0h0M277.0 653.0h0M277.5 639.0h0M277.5 645.0h0M277.5 655.5h0M278.5 643.0h0M278.5 645.5h0M278.5 650.5h0M278.5 652.0h0M279.0 638.5h0M279.0 644.5h0M279.5 642.5h0M279.5 649.5h0M280.0 652.0h0M280.0 653.0h0M280.5 641.5h0M281.5 640.0h0M281.5 641.5h0M281.5 643.5h0M281.5 649.0h0M281.5 650.0h0M281.5 652.5h0M282.0 641.0h0M282.0 644.5h0M282.0 652.5h0M282.5 632.5h0M282.5 642.0h0M282.5 653.5h0M283.0 644.0h0M283.5 646.0h0M283.5 652.0h0M284.0 642.0h0M284.0 643.0h0M284.0 643.5h0M284.0 644.0h0M284.0 652.0h0M284.5 636.5h0M284.5 639.5h0M284.5 645.5h0M284.5 655.0h0M284.5 657.0h0M285.0 643.5h0M285.0 644.5h0M285.0 645.5h0M285.0 646.0h0M286.0 638.5h0M286.0 639.5h0M286.0 644.0h0M286.0 646.0h0M286.0 648.0h0M286.5 637.5h0M286.5 645.5h0M287.0 645.5h0M287.0 650.0h0M287.5 638.5h0M287.5 646.0h0M287.5 649.0h0M287.5 652.5h0M288.0 638.5h0M288.0 639.5h0M288.0 640.5h0M288.5 638.0h0M288.5 650.5h0M289.0 639.0h0M289.0 648.0h0M289.5 647.0h0M289.5 655.0h0M290.0 634.5h0M290.0 638.0h0M290.0 646.5h0M290.0 647.0h0M290.0 647.5h0M290.5 647.5h0M290.5 650.0h0M291.0 646.5h0M291.5 636.5h0M291.5 644.5h0M292.0 635.5h0M292.0 644.0h0M292.0 644.5h0M293.0 629.5h0M293.0 630.0h0M293.0 634.5h0M293.0 647.0h0M293.0 648.0h0M294.0 633.0h0M294.0 635.0h0M294.0 648.5h0M294.5 627.5h0M294.5 632.5h0M294.5 645.0h0M294.5 645.5h0M295.5 643.5h0M295.5 645.5h0M296.0 629.0h0M296.0 631.5h0M296.0 646.5h0M296.5 643.5h0M296.5 646.0h0M297.0 633.5h0M297.0 644.0h0M297.0 651.0h0M297.0 655.0h0M297.5 631.0h0M297.5 645.5h0M297.5 647.0h0M297.5 648.0h0M298.0 629.5h0M298.0 644.5h0M298.0 645.0h0M298.0 648.0h0M298.5 643.5h0M299.0 632.0h0M299.0 643.0h0M299.5 630.0h0M299.5 660.5h0M300.0 629.5h0M300.0 643.5h0M300.0 646.0h0M300.5 620.5h0M300.5 631.0h0M300.5 647.5h0M300.5 652.0h0M301.0 644.5h0M301.0 653.5h0M301.5 624.0h0M301.5 643.5h0M302.5 642.5h0M302.5 643.0h0M303.0 626.5h0M303.5 640.0h0M303.5 641.5h0M304.5 627.5h0M304.5 628.5h0M305.0 639.5h0M305.0 640.0h0M305.5 622.5h0M305.5 624.5h0M305.5 625.5h0M305.5 628.0h0M305.5 640.0h0M306.0 627.5h0M306.0 640.5h0M306.5 624.5h0M306.5 627.5h0M306.5 639.0h0M306.5 640.5h0M306.5 644.5h0M307.0 623.0h0M307.0 625.5h0M307.0 638.5h0M307.5 606.5h0M307.5 626.0h0M308.0 621.5h0M308.0 643.5h0M308.5 641.0h0M308.5 644.0h0M309.5 638.5h0M309.5 641.5h0M310.5 612.0h0M310.5 621.0h0M310.5 622.0h0M310.5 640.5h0M310.5 650.0h0M312.0 611.0h0M312.0 620.5h0M312.5 638.0h0M313.0 618.5h0M313.5 620.0h0M314.0 649.0h0M315.0 635.5h0M315.0 636.5h0M315.5 620.0h0M315.5 635.5h0M316.5 618.0h0M316.5 634.0h0M316.5 637.0h0M316.5 647.5h0M317.0 620.0h0M317.0 634.0h0M317.0 635.0h0M317.5 617.5h0M317.5 637.5h0M318.0 618.5h0M318.0 635.5h0M318.5 617.5h0M319.0 619.0h0M319.5 618.0h0M319.5 619.0h0M319.5 634.5h0M319.5 640.0h0M320.0 636.5h0M320.0 641.0h0M320.0 645.0h0M320.5 613.5h0M320.5 615.5h0M320.5 635.0h0M320.5 636.0h0M321.0 616.0h0M322.0 616.5h0M322.5 599.5h0M322.5 615.5h0M322.5 616.5h0M323.0 616.0h0M323.0 616.5h0M323.5 615.5h0M323.5 633.0h0M324.0 612.5h0M324.0 616.5h0M324.0 617.5h0M324.0 635.0h0M324.5 617.0h0M324.5 617.5h0M325.0 614.5h0M325.0 632.0h0M325.5 614.5h0M325.5 615.5h0M325.5 616.0h0M326.0 607.5h0M326.0 612.5h0M326.0 635.5h0M326.5 610.5h0M326.5 615.5h0M326.5 638.0h0M326.5 650.5h0M327.0 612.0h0M327.0 613.5h0M328.0 610.0h0M328.5 612.0h0M329.0 603.5h0M329.0 632.5h0M329.5 609.0h0M329.5 612.5h0M330.0 611.5h0M330.0 628.5h0M330.0 631.0h0M330.5 612.5h0M331.5 610.0h0M331.5 629.5h0M332.0 610.5h0M332.5 610.5h0M332.5 629.0h0M333.0 609.0h0M333.0 628.0h0M333.5 630.5h0M333.5 647.0h0M334.0 609.0h0M334.0 631.0h0M334.5 606.0h0M334.5 606.5h0M334.5 628.0h0M335.0 633.0h0M336.0 606.5h0M336.5 605.5h0M336.5 606.0h0M336.5 607.5h0M337.0 607.5h0M338.5 604.0h0M338.5 605.5h0M338.5 607.5h0M339.0 626.5h0M339.0 627.5h0M340.0 597.5h0M340.0 605.5h0M340.0 626.0h0M340.0 629.5h0M341.0 600.0h0M341.0 604.5h0M341.0 626.0h0M341.0 629.5h0M341.0 632.5h0M341.0 635.5h0M341.5 596.0h0M342.0 603.0h0M342.0 632.5h0M342.5 603.0h0M342.5 622.5h0M343.5 597.5h0M343.5 602.5h0M343.5 620.5h0M343.5 623.0h0M344.0 602.5h0M344.0 621.5h0M344.0 622.0h0M344.0 623.0h0M344.0 624.5h0M344.5 621.5h0M344.5 625.0h0M345.0 603.5h0M345.0 621.5h0M345.5 604.0h0M345.5 622.5h0M346.0 597.5h0M346.0 599.5h0M346.0 621.0h0M346.0 621.5h0M346.5 599.0h0M346.5 602.5h0M346.5 603.0h0M346.5 630.5h0M347.0 600.0h0M347.5 601.5h0M347.5 620.5h0M347.5 622.5h0M348.0 594.5h0M348.0 601.0h0M348.0 602.0h0M348.5 594.5h0M348.5 600.0h0M349.5 597.0h0M349.5 599.0h0M349.5 600.0h0M349.5 623.5h0M350.0 621.0h0M350.0 622.5h0M350.5 599.0h0M350.5 618.5h0M351.0 596.0h0M351.0 599.5h0M351.0 618.5h0M351.0 623.0h0M351.5 618.0h0M351.5 620.0h0M351.5 624.5h0M352.0 585.5h0M352.0 620.0h0M352.5 598.0h0M352.5 599.5h0M353.0 621.0h0M353.5 619.0h0M354.0 618.5h0M354.5 595.5h0M354.5 598.5h0M354.5 622.0h0M354.5 624.0h0M355.0 588.0h0M355.0 589.0h0M355.0 597.0h0M355.0 617.5h0M355.5 598.5h0M356.0 597.0h0M356.0 616.0h0M356.0 616.5h0M356.5 591.0h0M356.5 617.0h0M357.0 593.5h0M357.0 595.0h0M357.0 617.0h0M357.5 593.0h0M357.5 595.0h0M357.5 596.0h0M358.0 594.5h0M358.5 591.5h0M358.5 596.5h0M359.0 592.5h0M359.0 594.5h0M359.0 595.5h0M359.5 596.5h0M360.0 591.0h0M360.0 595.0h0M360.5 593.0h0M360.5 619.0h0M361.0 590.5h0M361.0 592.5h0M361.0 615.5h0M361.0 621.5h0M361.5 593.0h0M361.5 619.0h0M362.0 591.5h0M362.0 615.5h0M362.0 619.0h0M362.5 589.5h0M363.0 590.5h0M363.0 592.0h0M363.5 589.5h0M363.5 592.0h0M364.5 590.0h0M365.0 589.0h0M365.0 612.0h0M365.5 584.5h0M365.5 612.0h0M365.5 612.5h0M366.0 587.5h0M366.0 588.0h0M366.0 613.0h0M366.5 612.0h0M367.0 584.5h0M367.0 587.0h0M367.0 612.5h0M367.0 618.0h0M367.5 611.0h0M368.0 576.0h0M368.0 587.0h0M368.5 615.0h0M369.5 584.0h0M369.5 612.0h0M369.5 613.5h0M370.0 619.0h0M370.5 581.0h0M370.5 612.0h0M370.5 614.5h0M371.0 568.5h0M371.0 585.5h0M371.0 611.0h0M371.0 614.0h0M372.0 611.0h0M372.5 569.5h0M372.5 578.0h0M372.5 580.5h0M372.5 618.5h0M372.5 619.0h0M373.0 608.5h0M373.0 609.0h0M373.5 607.5h0M373.5 608.5h0M373.5 613.0h0M373.5 620.0h0M374.0 581.0h0M374.5 605.5h0M374.5 609.0h0M375.0 611.0h0M375.5 579.0h0M375.5 606.5h0M375.5 614.5h0M376.0 579.5h0M376.0 585.0h0M376.0 608.0h0M376.5 606.5h0M376.5 609.5h0M377.0 583.0h0M377.0 584.5h0M377.5 581.5h0M377.5 611.0h0M378.0 581.5h0M378.0 613.0h0M378.5 611.0h0M379.0 582.0h0M379.0 583.5h0M379.0 611.5h0M379.5 581.0h0M380.0 580.5h0M380.5 569.0h0M380.5 582.5h0M381.0 572.5h0M381.0 577.5h0M381.0 608.0h0M381.5 567.0h0M381.5 582.0h0M381.5 604.5h0M382.0 581.5h0M382.0 602.5h0M382.0 603.0h0M382.5 580.0h0M382.5 581.5h0M382.5 601.5h0M382.5 605.0h0M383.0 581.0h0M383.0 581.5h0M383.0 602.0h0M383.0 603.5h0M383.5 573.5h0M383.5 580.5h0M383.5 582.5h0M383.5 602.5h0M384.0 579.5h0M384.0 580.0h0M384.0 602.5h0M384.0 604.5h0M384.5 577.5h0M384.5 580.0h0M384.5 601.5h0M385.5 580.0h0M385.5 600.0h0M386.0 570.0h0M386.0 575.0h0M386.0 579.0h0M386.0 601.0h0M386.5 578.0h0M386.5 579.5h0M386.5 603.5h0M387.0 575.5h0M387.5 574.5h0M387.5 576.5h0M387.5 599.5h0M388.5 574.0h0M389.0 576.5h0M389.0 601.0h0M389.5 558.0h0M389.5 569.0h0M389.5 577.5h0M389.5 578.5h0M389.5 601.5h0M390.5 577.0h0M391.0 576.0h0M391.0 576.5h0M391.0 598.5h0M391.5 575.5h0M391.5 577.5h0M391.5 600.5h0M391.5 604.0h0M392.0 577.0h0M392.0 599.0h0M392.5 575.5h0M392.5 576.0h0M392.5 576.5h0M392.5 598.5h0M392.5 607.0h0M393.0 575.5h0M393.0 598.0h0M393.5 575.0h0M393.5 576.0h0M394.0 573.5h0M394.0 575.5h0M394.5 600.0h0M395.0 575.5h0M395.0 576.0h0M395.0 576.5h0M395.0 598.0h0M395.5 575.0h0M395.5 595.0h0M395.5 596.0h0M395.5 597.5h0M396.0 575.0h0M397.0 595.0h0M397.5 573.5h0M397.5 593.5h0M398.0 573.5h0M399.0 568.0h0M399.0 573.0h0M399.5 571.5h0M399.5 595.0h0M399.5 602.0h0M400.0 568.5h0M400.0 572.5h0M400.0 574.0h0M400.0 597.0h0M400.5 572.5h0M400.5 574.0h0M400.5 574.5h0M401.0 570.5h0M401.0 572.0h0M402.0 589.5h0M402.0 591.0h0M402.5 568.5h0M403.0 554.5h0M403.0 561.5h0M403.0 570.0h0M403.5 569.0h0M403.5 571.0h0M403.5 572.0h0M403.5 572.5h0M404.5 570.0h0M406.0 589.0h0M406.0 593.5h0M407.0 591.0h0M408.0 566.0h0M408.0 567.0h0M408.0 587.5h0M408.0 590.5h0M409.0 567.0h0M409.0 568.0h0M409.5 564.0h0M409.5 586.5h0M409.5 588.0h0M410.0 588.0h0M410.5 568.5h0M411.5 566.5h0M412.0 587.5h0M412.5 561.0h0M412.5 562.5h0M412.5 584.0h0M413.0 584.0h0M413.0 586.5h0M413.0 587.0h0M413.0 588.0h0M413.5 563.0h0M413.5 565.5h0M413.5 566.0h0M413.5 582.5h0M413.5 583.5h0M414.0 566.5h0M414.0 583.0h0M415.0 583.0h0M416.0 582.5h0M417.0 563.0h0M417.0 581.5h0M417.0 583.0h0M417.5 563.5h0M417.5 564.5h0M418.0 562.0h0M418.0 565.0h0M418.5 561.5h0M418.5 580.5h0M419.0 561.5h0M419.0 565.0h0M419.5 563.0h0M419.5 563.5h0M419.5 564.0h0M420.0 564.5h0M420.5 579.5h0M420.5 581.0h0M421.0 562.0h0M421.0 579.5h0M421.5 562.0h0M421.5 562.5h0M421.5 579.0h0M422.0 577.5h0M422.0 579.5h0M422.5 557.5h0M422.5 578.0h0M423.0 561.0h0M423.0 562.5h0M423.0 579.5h0M423.5 560.0h0M423.5 560.5h0M423.5 561.0h0M423.5 562.0h0M423.5 562.5h0M423.5 577.0h0M423.5 577.5h0M423.5 578.5h0M424.5 556.0h0M424.5 561.0h0M424.5 574.5h0M424.5 575.5h0M425.0 562.5h0M425.0 575.5h0M425.0 584.0h0M425.5 563.0h0M426.0 561.0h0M426.0 562.0h0M426.0 574.5h0M426.0 576.0h0M426.5 559.0h0M427.0 576.5h0M427.5 560.5h0M427.5 577.5h0M428.0 559.0h0M428.0 576.0h0M428.5 558.0h0M428.5 592.0h0M429.0 547.5h0M430.5 554.5h0M430.5 575.5h0M431.0 574.5h0M431.0 576.0h0M431.0 581.5h0M433.0 555.5h0M433.0 576.0h0M433.5 552.5h0M433.5 553.5h0M434.5 572.5h0M434.5 574.5h0M435.0 546.0h0M435.0 570.5h0M435.5 568.5h0M436.0 567.5h0M436.5 551.0h0M437.0 567.0h0M437.0 569.0h0M437.5 550.0h0M437.5 551.5h0M437.5 569.0h0M437.5 571.5h0M438.0 569.5h0M439.0 549.0h0M439.0 569.5h0M439.5 552.0h0M440.0 549.5h0M440.5 567.5h0M440.5 568.0h0M441.5 550.5h0M441.5 554.0h0M441.5 572.5h0M442.0 550.0h0M442.0 552.5h0M442.0 553.5h0M443.5 565.5h0M443.5 572.0h0M444.0 552.0h0M444.5 559.0h0M444.5 564.5h0M445.0 550.0h0M445.0 559.5h0M445.5 547.0h0M446.0 550.5h0M446.5 558.5h0M446.5 560.5h0M446.5 563.0h0M447.0 558.5h0M447.0 559.5h0M447.0 560.5h0M447.0 561.0h0M447.0 582.5h0M447.5 549.0h0M447.5 558.5h0M447.5 559.0h0M447.5 561.5h0M448.0 558.5h0M448.0 560.0h0M448.0 560.5h0M448.0 565.5h0M448.5 545.0h0M448.5 546.0h0M448.5 548.5h0M448.5 549.0h0M449.0 548.5h0M449.5 549.0h0M449.5 550.0h0M449.5 550.5h0M449.5 559.0h0M450.0 548.0h0M450.0 551.0h0M450.0 567.0h0M450.5 551.0h0M450.5 552.5h0M450.5 558.5h0M450.5 559.0h0M451.0 551.5h0M451.0 552.0h0M451.5 548.5h0M451.5 557.5h0M451.5 558.0h0M451.5 559.0h0M452.0 544.0h0M452.0 550.0h0M452.0 556.5h0M452.0 558.5h0M452.5 558.5h0M452.5 559.5h0M453.0 547.0h0M453.0 557.5h0M453.0 559.0h0M453.0 560.0h0M453.5 547.5h0M453.5 555.5h0M453.5 556.0h0M453.5 559.0h0M453.5 560.5h0M453.5 565.0h0M453.5 571.0h0M454.0 547.0h0M454.0 548.0h0M454.0 562.0h0M455.0 558.0h0M455.5 544.0h0M456.0 547.0h0M456.0 548.5h0M456.0 557.0h0M456.0 558.0h0M456.5 547.5h0M456.5 559.0h0M457.0 545.0h0M457.0 559.5h0M457.5 546.0h0M457.5 555.0h0M457.5 555.5h0M457.5 566.5h0M458.0 541.0h0M458.0 555.5h0M458.5 538.0h0M458.5 555.5h0M458.5 556.0h0M458.5 563.0h0M459.0 541.5h0M459.0 543.5h0M459.0 546.5h0M459.0 554.0h0M459.5 545.0h0M460.5 542.0h0M460.5 546.0h0M461.0 544.5h0M461.0 558.0h0M461.5 541.0h0M461.5 550.0h0M462.0 544.0h0M462.0 550.5h0M462.0 551.5h0M462.5 548.0h0M462.5 549.0h0M462.5 553.0h0M463.0 550.5h0M463.0 554.0h0M463.5 543.0h0M463.5 550.0h0M463.5 551.0h0M464.0 539.0h0M464.0 549.0h0M464.0 550.5h0M464.5 543.0h0M464.5 544.0h0M464.5 545.0h0M464.5 550.0h0M464.5 552.5h0M465.0 541.5h0M465.0 552.0h0M465.5 537.5h0M465.5 549.0h0M466.0 546.0h0M466.5 539.5h0M466.5 547.0h0M466.5 549.0h0M467.0 538.0h0M467.0 544.0h0M467.0 545.5h0M467.0 546.0h0M467.0 549.5h0M467.0 556.0h0M467.5 546.5h0M467.5 547.5h0M468.0 539.0h0M468.0 542.0h0M468.5 541.0h0M468.5 547.0h0M468.5 547.5h0M468.5 548.5h0M468.5 553.5h0M469.0 532.5h0M469.0 543.0h0M469.0 544.5h0M469.0 546.5h0M469.0 549.0h0M469.0 550.5h0M469.5 534.0h0M469.5 539.0h0M469.5 544.5h0M469.5 548.0h0M469.5 549.0h0M469.5 549.5h0M470.0 543.5h0M470.0 544.0h0M470.0 548.0h0M470.5 540.5h0M470.5 541.5h0M470.5 544.0h0M470.5 547.0h0M470.5 547.5h0M470.5 552.0h0M471.0 543.5h0M471.0 548.5h0M471.0 550.5h0M471.0 557.5h0M471.5 541.0h0M471.5 542.0h0M471.5 549.5h0M471.5 550.5h0M472.0 539.5h0M472.0 542.0h0M472.0 552.0h0M472.5 543.0h0M472.5 543.5h0M472.5 544.0h0M473.0 536.5h0M473.0 541.5h0M473.0 542.5h0M473.0 554.0h0M474.0 534.0h0M474.0 539.5h0M474.0 540.0h0M474.0 545.0h0M474.0 545.5h0M474.0 547.5h0M474.0 549.0h0M474.5 541.0h0M474.5 544.0h0M475.0 538.5h0M475.0 542.5h0M475.5 535.0h0M475.5 536.0h0M475.5 541.0h0M475.5 543.0h0M475.5 547.0h0M475.5 547.5h0M476.0 540.0h0M476.0 553.0h0M476.5 541.5h0M476.5 542.0h0M476.5 545.5h0M476.5 547.5h0M477.0 537.0h0M477.0 538.0h0M477.0 542.0h0M477.0 542.5h0M477.0 543.5h0M477.5 540.0h0M478.0 535.0h0M478.0 536.5h0M478.0 537.5h0M478.0 538.5h0M478.0 542.5h0M478.5 534.5h0M478.5 536.5h0M478.5 537.0h0M478.5 542.5h0M478.5 544.5h0M479.0 540.0h0M479.5 535.5h0M479.5 539.0h0M480.0 537.0h0M480.0 537.5h0M480.0 539.5h0M480.0 541.5h0M480.5 543.0h0M481.0 536.5h0M481.0 545.0h0M481.5 537.0h0M481.5 545.0h0M481.5 545.5h0M482.0 536.0h0M482.0 537.5h0M482.0 542.0h0M482.5 536.5h0M482.5 540.5h0M483.0 535.5h0M483.5 535.0h0M484.0 538.5h0M484.0 539.0h0M484.5 528.0h0M485.0 537.0h0M486.5 542.0h0M487.0 534.5h0M487.0 535.0h0M487.5 539.5h0M488.0 541.0h0M488.0 544.5h0M488.5 529.0h0M488.5 535.5h0M488.5 538.5h0M488.5 539.5h0M489.0 529.5h0M489.0 533.5h0M489.0 537.0h0M489.5 529.0h0M490.0 539.0h0M490.5 532.5h0M491.0 523.0h0M491.5 532.5h0M491.5 540.5h0M492.5 524.0h0M492.5 529.0h0M493.0 526.5h0M493.0 531.5h0M493.0 534.0h0M495.0 533.0h0M495.5 545.5h0M497.5 525.5h0M498.0 528.0h0M498.5 520.5h0M498.5 527.0h0M499.0 530.5h0M499.5 526.5h0M500.5 532.0h0M501.0 530.0h0M501.0 531.0h0M503.0 528.5h0M504.0 525.0h0M504.0 534.0h0M505.5 530.0h0M506.0 515.5h0M507.0 522.0h0M511.5 530.0h0M513.5 522.0h0M514.0 520.5h0M515.0 516.0h0M517.0 516.0h0M519.5 510.5h0M523.0 512.5h0M523.5 513.0h0M525.0 520.0h0M526.0 512.0h0M527.5 512.0h0M531.0 509.5h0M532.5 514.5h0M535.0 518.0h0M538.0 508.0h0M540.5 509.5h0M544.0 501.5h0M554.5 501.0h0M533.0 506.0h0M537.2 513.4h0M543.7 511.0h0M557.1 506.7h0M585.1 484.9h0M109.0 736.6h0M158.1 712.7h0M170.4 702.9h0M180.2 688.6h0M184.0 688.0h0M186.7 693.0h0M189.2 704.0h0M191.8 705.0h0M197.0 688.6h0" stroke="rgb(229,119,16)" stroke-opacity="0.7" stroke-width="2.3" stroke-linecap="round" fill="none"/>
<path d="M462 544h1v1h-1zM461 545h3v1h-3zM460 546h5v1h-5zM458 547h6v1h-6zM454 548h2v1h-2zM457 548h7v1h-7zM453 549h10v1h-10zM449 550h1v1h-1zM453 550h9v1h-9zM448 551h3v1h-3zM452 551h10v1h-10zM445 552h18v1h-18zM437 553h2v1h-2zM444 553h20v1h-20zM436 554h4v1h-4zM442 554h22v1h-22zM431 555h1v1h-1zM434 555h25v1h-25zM461 555h2v1h-2zM430 556h28v1h-28zM430 557h23v1h-23zM429 558h18v1h-18zM448 558h4v1h-4zM428 559h18v1h-18zM449 559h3v1h-3zM427 560h20v1h-20zM448 560h5v1h-5zM427 561h23v1h-23zM451 561h3v1h-3zM422 562h1v1h-1zM426 562h23v1h-23zM452 562h1v1h-1zM421 563h27v1h-27zM420 564h26v1h-26zM415 565h2v1h-2zM418 565h27v1h-27zM412 566h1v1h-1zM414 566h30v1h-30zM411 567h32v1h-32zM406 568h1v1h-1zM410 568h27v1h-27zM438 568h4v1h-4zM405 569h3v1h-3zM409 569h27v1h-27zM439 569h2v1h-2zM405 570h32v1h-32zM404 571h32v1h-32zM402 572h33v1h-33zM401 573h32v1h-32zM397 574h35v1h-35zM396 575h35v1h-35zM393 576h32v1h-32zM427 576h2v1h-2zM388 577h2v1h-2zM391 577h33v1h-33zM385 578h1v1h-1zM387 578h36v1h-36zM384 579h38v1h-38zM385 580h34v1h-34zM384 581h34v1h-34zM380 582h37v1h-37zM378 583h40v1h-40zM377 584h37v1h-37zM416 584h1v1h-1zM373 585h1v1h-1zM376 585h37v1h-37zM372 586h40v1h-40zM367 587h1v1h-1zM371 587h39v1h-39zM366 588h3v1h-3zM370 588h39v1h-39zM365 589h43v1h-43zM365 590h41v1h-41zM364 591h38v1h-38zM362 592h39v1h-39zM361 593h40v1h-40zM361 594h39v1h-39zM360 595h37v1h-37zM398 595h1v1h-1zM357 596h39v1h-39zM356 597h39v1h-39zM353 598h41v1h-41zM350 599h41v1h-41zM349 600h41v1h-41zM349 601h36v1h-36zM343 602h1v1h-1zM348 602h36v1h-36zM342 603h3v1h-3zM346 603h37v1h-37zM341 604h43v1h-43zM340 605h43v1h-43zM340 606h42v1h-42zM337 607h1v1h-1zM339 607h36v1h-36zM376 607h5v1h-5zM335 608h39v1h-39zM379 608h1v1h-1zM333 609h41v1h-41zM332 610h42v1h-42zM331 611h42v1h-42zM327 612h40v1h-40zM368 612h3v1h-3zM326 613h39v1h-39zM327 614h37v1h-37zM326 615h37v1h-37zM322 616h1v1h-1zM325 616h36v1h-36zM321 617h35v1h-35zM320 618h32v1h-32zM353 618h2v1h-2zM316 619h1v1h-1zM318 619h33v1h-33zM314 620h38v1h-38zM312 621h33v1h-33zM346 621h3v1h-3zM350 621h1v1h-1zM309 622h1v1h-1zM311 622h33v1h-33zM347 622h1v1h-1zM308 623h36v1h-36zM307 624h36v1h-36zM307 625h35v1h-35zM302 626h1v1h-1zM307 626h34v1h-34zM301 627h3v1h-3zM306 627h30v1h-30zM337 627h2v1h-2zM300 628h35v1h-35zM301 629h30v1h-30zM300 630h30v1h-30zM300 631h29v1h-29zM299 632h26v1h-26zM326 632h2v1h-2zM295 633h1v1h-1zM298 633h25v1h-25zM294 634h24v1h-24zM319 634h3v1h-3zM294 635h23v1h-23zM320 635h1v1h-1zM293 636h25v1h-25zM291 637h24v1h-24zM316 637h1v1h-1zM290 638h24v1h-24zM285 639h2v1h-2zM289 639h22v1h-22zM284 640h21v1h-21zM306 640h1v1h-1zM308 640h2v1h-2zM283 641h21v1h-21zM284 642h19v1h-19zM281 643h1v1h-1zM285 643h17v1h-17zM280 644h3v1h-3zM286 644h13v1h-13zM300 644h1v1h-1zM278 645h6v1h-6zM287 645h5v1h-5zM293 645h3v1h-3zM277 646h8v1h-8zM288 646h3v1h-3zM294 646h1v1h-1zM276 647h10v1h-10zM287 647h4v1h-4zM272 648h2v1h-2zM277 648h13v1h-13zM271 649h4v1h-4zM276 649h13v1h-13zM270 650h10v1h-10zM283 650h4v1h-4zM271 651h1v1h-1zM274 651h4v1h-4zM284 651h2v1h-2zM276 652h1v1h-1z" fill="rgb(74,174,54)"/>
<path d="M181.5 686.0h0M184.5 699.0h0M185.5 706.5h0M187.5 703.0h0M188.0 699.0h0M194.0 681.5h0M194.0 699.5h0M195.5 688.5h0M196.0 693.0h0M197.0 695.5h0M198.0 695.0h0M198.5 691.5h0M199.5 686.0h0M200.5 690.0h0M202.5 686.5h0M204.5 692.0h0M206.5 690.5h0M207.0 685.5h0M207.5 688.5h0M207.5 690.5h0M208.0 689.0h0M209.5 684.0h0M210.0 683.0h0M210.0 694.0h0M210.5 685.5h0M211.5 681.0h0M212.0 682.5h0M212.0 687.5h0M214.0 681.0h0M217.5 683.0h0M219.0 683.0h0M221.5 674.5h0M223.0 682.0h0M223.5 675.0h0M224.0 676.5h0M224.5 685.5h0M226.5 678.0h0M227.0 673.5h0M227.5 671.5h0M227.5 679.0h0M228.5 672.5h0M233.5 666.5h0M234.0 676.0h0M234.0 678.0h0M234.5 664.0h0M234.5 665.0h0M234.5 675.5h0M235.0 666.0h0M235.0 672.0h0M236.0 664.5h0M236.0 673.5h0M236.5 663.5h0M236.5 666.5h0M237.0 675.5h0M237.5 673.0h0M238.0 662.0h0M238.5 667.5h0M238.5 670.0h0M239.0 681.5h0M240.0 668.5h0M240.5 662.5h0M240.5 669.0h0M240.5 669.5h0M241.0 667.0h0M242.0 660.0h0M243.0 662.0h0M243.0 666.0h0M243.5 663.5h0M243.5 668.0h0M244.5 664.0h0M244.5 665.5h0M245.0 668.5h0M247.5 662.5h0M249.0 655.0h0M249.5 659.0h0M249.5 660.5h0M249.5 670.5h0M250.0 658.0h0M250.0 661.0h0M250.5 667.0h0M251.5 660.0h0M252.0 657.0h0M252.0 659.0h0M252.0 660.5h0M252.0 663.0h0M252.0 666.5h0M252.5 661.0h0M252.5 662.0h0M253.0 655.5h0M253.0 665.5h0M253.5 655.5h0M253.5 660.0h0M253.5 670.0h0M254.0 653.0h0M254.5 657.5h0M254.5 660.0h0M254.5 664.5h0M255.0 652.0h0M255.5 649.5h0M255.5 668.0h0M256.0 659.0h0M256.0 667.0h0M257.0 655.5h0M257.0 658.0h0M257.5 648.0h0M257.5 659.0h0M257.5 660.0h0M257.5 662.5h0M258.0 648.0h0M258.0 656.5h0M258.5 656.5h0M258.5 657.5h0M258.5 660.5h0M259.0 653.5h0M259.0 665.5h0M259.5 659.0h0M260.0 660.5h0M260.0 662.0h0M261.0 655.5h0M261.0 659.5h0M261.0 663.5h0M261.5 653.0h0M261.5 656.5h0M261.5 662.0h0M262.5 653.5h0M262.5 662.5h0M262.5 663.5h0M263.0 653.0h0M263.0 667.5h0M263.5 650.0h0M263.5 655.5h0M263.5 657.0h0M264.0 650.5h0M264.5 653.0h0M264.5 655.5h0M265.0 655.0h0M265.0 661.0h0M266.0 652.0h0M266.0 652.5h0M266.0 659.0h0M266.5 650.0h0M266.5 652.0h0M267.0 646.5h0M267.0 651.0h0M267.0 657.5h0M267.5 656.5h0M267.5 658.0h0M267.5 663.0h0M268.0 657.5h0M268.5 650.5h0M268.5 655.5h0M269.5 644.0h0M269.5 647.5h0M269.5 651.0h0M270.0 653.0h0M270.0 653.5h0M270.0 654.5h0M270.0 659.0h0M270.5 640.0h0M270.5 651.0h0M270.5 659.0h0M271.0 651.0h0M271.0 652.5h0M271.0 657.5h0M271.0 660.0h0M271.5 652.0h0M271.5 659.0h0M272.0 644.5h0M272.5 641.5h0M272.5 644.0h0M272.5 649.5h0M272.5 654.0h0M273.0 647.0h0M273.0 648.0h0M273.0 656.0h0M273.0 656.5h0M273.5 643.0h0M273.5 649.0h0M273.5 652.0h0M273.5 654.0h0M273.5 654.5h0M273.5 660.5h0M274.0 646.0h0M274.0 650.5h0M274.5 643.0h0M274.5 644.5h0M274.5 649.0h0M274.5 650.0h0M274.5 657.5h0M275.5 642.0h0M275.5 644.5h0M275.5 651.5h0M275.5 660.0h0M276.0 644.5h0M276.0 646.5h0M276.0 647.0h0M276.0 652.0h0M276.5 638.0h0M277.0 642.5h0M277.0 645.0h0M277.0 646.0h0M277.0 647.5h0M277.0 651.0h0M277.0 653.5h0M277.0 654.0h0M277.0 655.5h0M277.5 644.0h0M277.5 656.0h0M278.5 640.5h0M278.5 643.0h0M278.5 645.5h0M278.5 649.5h0M278.5 650.0h0M279.0 642.0h0M279.0 645.0h0M279.5 641.5h0M279.5 649.5h0M280.0 654.0h0M280.5 643.5h0M280.5 653.0h0M281.0 650.0h0M281.0 651.0h0M281.5 636.0h0M281.5 642.0h0M281.5 649.0h0M281.5 653.0h0M282.0 640.5h0M282.0 641.0h0M282.0 644.5h0M282.0 649.0h0M282.5 637.5h0M282.5 645.0h0M283.0 640.0h0M283.0 643.5h0M283.0 650.0h0M284.0 640.0h0M284.0 642.5h0M284.0 652.5h0M284.0 653.0h0M284.5 636.5h0M284.5 640.5h0M284.5 644.5h0M284.5 651.0h0M284.5 659.5h0M285.0 637.0h0M285.0 638.5h0M285.0 645.0h0M285.0 647.0h0M285.0 651.0h0M285.0 652.5h0M286.0 636.5h0M286.0 639.5h0M286.0 652.0h0M286.5 651.0h0M287.0 640.5h0M287.0 648.5h0M287.5 634.5h0M287.5 649.0h0M288.0 634.5h0M288.0 639.5h0M288.0 640.5h0M288.0 646.5h0M288.5 635.0h0M288.5 640.5h0M289.0 636.5h0M289.0 650.5h0M289.5 651.5h0M290.0 637.5h0M290.5 634.5h0M290.5 637.0h0M290.5 645.5h0M290.5 647.5h0M290.5 648.5h0M291.0 637.0h0M291.5 633.5h0M291.5 644.0h0M291.5 648.0h0M292.0 636.0h0M292.0 637.5h0M292.0 646.0h0M292.0 647.5h0M292.5 634.0h0M292.5 650.5h0M293.0 636.0h0M293.0 645.0h0M293.0 648.0h0M293.5 631.5h0M293.5 633.5h0M294.0 629.5h0M294.0 633.0h0M294.0 647.0h0M294.5 630.5h0M294.5 633.5h0M295.5 634.5h0M295.5 644.0h0M295.5 646.5h0M296.0 630.5h0M296.0 643.5h0M296.0 645.5h0M296.5 631.0h0M296.5 644.0h0M297.0 652.0h0M297.0 658.0h0M297.5 633.0h0M297.5 643.5h0M298.0 633.0h0M298.0 644.0h0M298.5 630.0h0M298.5 642.5h0M299.0 643.5h0M299.5 629.0h0M299.5 632.5h0M299.5 654.0h0M300.0 627.5h0M300.0 630.5h0M300.0 631.0h0M300.0 645.5h0M300.5 617.0h0M300.5 629.0h0M300.5 630.5h0M300.5 643.0h0M300.5 646.0h0M300.5 647.0h0M300.5 654.0h0M301.0 649.5h0M301.5 626.5h0M301.5 627.0h0M301.5 642.5h0M301.5 645.5h0M302.0 623.0h0M302.0 626.5h0M302.5 641.0h0M303.5 624.0h0M304.0 640.5h0M304.0 641.0h0M304.5 624.0h0M305.0 628.5h0M305.0 639.5h0M305.5 623.0h0M305.5 626.5h0M305.5 639.0h0M305.5 642.5h0M306.0 627.5h0M306.5 624.0h0M306.5 624.5h0M306.5 639.0h0M306.5 645.5h0M306.5 647.0h0M307.0 619.0h0M307.0 624.5h0M307.0 638.5h0M307.5 605.5h0M308.0 621.0h0M308.0 622.5h0M308.0 643.0h0M308.0 645.5h0M308.5 622.5h0M308.5 639.5h0M309.0 640.5h0M309.5 641.0h0M310.0 646.0h0M310.5 616.0h0M310.5 623.0h0M310.5 638.0h0M310.5 649.5h0M311.0 619.0h0M311.0 620.5h0M311.0 638.0h0M312.0 608.5h0M312.0 618.0h0M312.0 618.5h0M312.0 621.0h0M312.0 638.0h0M312.0 640.0h0M313.0 619.5h0M313.5 620.5h0M314.0 619.5h0M314.0 636.5h0M314.0 647.5h0M315.5 619.5h0M316.0 635.5h0M316.5 619.5h0M316.5 636.0h0M316.5 636.5h0M316.5 640.0h0M316.5 648.0h0M318.0 633.0h0M318.0 634.0h0M318.0 637.0h0M318.5 618.5h0M318.5 619.5h0M318.5 637.5h0M319.0 634.0h0M319.5 616.0h0M319.5 634.0h0M319.5 638.0h0M319.5 640.0h0M320.0 618.5h0M320.0 635.0h0M320.0 647.5h0M320.5 613.0h0M320.5 615.0h0M321.0 613.5h0M321.0 615.0h0M321.0 616.5h0M321.0 633.5h0M321.0 634.5h0M321.5 614.0h0M321.5 636.5h0M322.0 634.0h0M322.5 606.5h0M322.5 617.5h0M322.5 631.5h0M323.0 617.5h0M323.0 632.0h0M323.5 633.5h0M324.0 615.5h0M324.0 642.5h0M324.5 615.0h0M324.5 617.5h0M325.0 613.5h0M325.0 616.5h0M325.0 632.0h0M326.0 611.5h0M326.0 612.0h0M326.0 633.0h0M326.0 639.5h0M326.5 612.0h0M326.5 613.5h0M326.5 631.5h0M326.5 650.0h0M327.0 611.0h0M328.5 630.0h0M329.0 599.0h0M329.0 612.5h0M329.0 631.5h0M329.5 610.0h0M329.5 612.0h0M329.5 612.5h0M329.5 630.5h0M329.5 632.0h0M330.0 612.0h0M330.0 630.0h0M330.5 627.5h0M330.5 631.5h0M331.5 611.0h0M331.5 611.5h0M332.5 627.5h0M332.5 628.0h0M332.5 631.5h0M333.0 609.0h0M333.0 627.5h0M333.0 630.0h0M333.5 606.5h0M333.5 609.5h0M333.5 629.0h0M333.5 649.5h0M334.0 609.5h0M334.0 631.5h0M334.5 608.0h0M335.0 634.5h0M335.5 608.5h0M336.0 628.0h0M336.5 600.0h0M336.5 606.5h0M337.5 627.0h0M338.0 607.5h0M338.5 608.0h0M339.0 628.0h0M339.5 605.0h0M339.5 626.0h0M339.5 632.5h0M340.0 592.5h0M340.0 632.0h0M340.5 603.0h0M340.5 605.5h0M340.5 606.0h0M341.0 599.0h0M341.0 629.5h0M341.0 630.0h0M341.0 632.0h0M341.5 595.5h0M341.5 625.5h0M342.0 601.5h0M342.0 602.5h0M342.0 603.5h0M342.0 634.5h0M342.5 602.5h0M342.5 624.0h0M342.5 626.0h0M343.0 602.5h0M343.0 622.0h0M343.5 622.0h0M344.0 600.5h0M344.0 626.5h0M344.0 628.0h0M344.5 624.5h0M345.0 601.5h0M345.0 620.0h0M345.5 604.5h0M345.5 625.5h0M346.0 597.0h0M346.0 603.5h0M346.0 621.5h0M346.5 600.5h0M346.5 603.0h0M346.5 622.0h0M346.5 632.0h0M348.0 600.0h0M348.5 598.0h0M348.5 598.5h0M348.5 599.0h0M348.5 619.5h0M349.0 622.0h0M349.5 599.0h0M349.5 619.0h0M349.5 621.0h0M350.0 599.5h0M350.0 625.0h0M350.5 617.5h0M351.0 594.0h0M351.0 620.0h0M351.5 617.0h0M351.5 622.0h0M352.0 584.5h0M352.0 597.5h0M352.0 599.0h0M352.0 616.5h0M352.5 620.5h0M352.5 622.0h0M353.0 597.5h0M353.0 619.0h0M353.5 618.5h0M354.0 618.5h0M354.0 629.0h0M354.5 596.0h0M354.5 617.5h0M354.5 625.5h0M355.0 588.0h0M355.0 593.5h0M355.0 597.5h0M355.0 598.0h0M355.0 598.5h0M355.0 616.5h0M355.5 598.0h0M355.5 598.5h0M355.5 615.5h0M356.0 616.0h0M356.5 596.0h0M356.5 616.0h0M357.0 591.0h0M357.0 616.5h0M357.0 618.5h0M357.5 593.0h0M357.5 595.5h0M358.0 596.5h0M358.5 593.5h0M358.5 616.5h0M359.0 592.0h0M359.0 595.0h0M359.5 616.5h0M360.0 588.5h0M360.5 616.0h0M361.0 590.5h0M361.0 615.0h0M361.0 622.5h0M361.5 593.0h0M362.0 592.0h0M362.0 592.5h0M362.0 616.5h0M362.5 586.5h0M362.5 614.5h0M363.5 591.0h0M363.5 591.5h0M363.5 592.5h0M364.5 588.0h0M365.0 612.5h0M365.5 590.0h0M366.0 584.0h0M366.0 613.0h0M366.5 615.0h0M367.0 586.5h0M367.0 612.5h0M367.0 616.5h0M367.0 618.5h0M367.5 586.5h0M367.5 587.5h0M368.0 577.0h0M368.0 584.5h0M369.0 589.0h0M369.0 611.5h0M369.5 582.5h0M369.5 588.5h0M369.5 589.0h0M369.5 612.0h0M370.0 615.5h0M370.5 583.0h0M370.5 587.5h0M370.5 617.5h0M371.0 564.5h0M371.0 615.5h0M371.5 586.5h0M371.5 611.0h0M372.0 585.0h0M372.5 568.5h0M372.5 579.5h0M372.5 585.5h0M372.5 611.5h0M372.5 617.5h0M373.0 608.5h0M373.0 611.0h0M373.5 606.5h0M373.5 609.0h0M373.5 611.5h0M373.5 614.5h0M374.0 579.5h0M374.0 585.0h0M374.5 605.5h0M375.0 586.5h0M375.0 605.5h0M375.0 612.0h0M375.5 579.5h0M375.5 615.0h0M376.0 585.5h0M376.5 608.0h0M376.5 608.5h0M377.0 584.0h0M377.5 582.5h0M377.5 613.5h0M378.0 582.5h0M378.0 606.5h0M378.0 607.0h0M378.0 614.0h0M378.5 583.5h0M378.5 610.5h0M379.0 583.5h0M379.0 607.5h0M379.0 608.5h0M379.0 613.0h0M379.5 583.0h0M379.5 606.5h0M380.0 577.0h0M380.0 580.0h0M380.0 582.0h0M380.0 582.5h0M380.5 570.5h0M380.5 581.0h0M381.0 573.5h0M381.0 574.5h0M381.0 609.5h0M381.5 565.5h0M381.5 581.5h0M382.0 603.5h0M382.5 605.0h0M383.0 578.5h0M383.0 604.0h0M383.0 606.0h0M383.5 572.5h0M383.5 579.0h0M383.5 601.0h0M383.5 601.5h0M383.5 607.5h0M384.0 578.0h0M384.0 581.0h0M384.5 578.5h0M384.5 579.0h0M384.5 581.5h0M385.5 601.0h0M386.0 560.0h0M386.0 574.0h0M387.0 600.5h0M387.5 572.5h0M387.5 599.5h0M388.0 577.0h0M389.0 572.5h0M389.0 600.5h0M389.5 557.0h0M389.5 567.0h0M390.0 575.0h0M390.0 577.5h0M390.0 578.0h0M390.0 578.5h0M390.5 600.0h0M391.0 576.0h0M391.5 572.5h0M391.5 577.0h0M391.5 600.0h0M391.5 606.5h0M392.0 577.0h0M392.0 598.5h0M392.0 601.5h0M392.5 597.5h0M392.5 611.5h0M393.0 575.5h0M393.0 576.5h0M393.0 600.0h0M394.5 575.0h0M395.0 575.5h0M395.5 574.0h0M395.5 596.0h0M396.0 575.0h0M396.5 593.5h0M397.0 573.5h0M397.5 573.0h0M397.5 574.5h0M397.5 594.0h0M397.5 594.5h0M398.0 574.0h0M398.5 594.5h0M399.0 574.5h0M399.5 603.5h0M399.5 604.5h0M400.0 574.5h0M400.0 597.0h0M400.0 597.5h0M400.5 573.0h0M400.5 573.5h0M400.5 592.0h0M400.5 593.0h0M401.0 570.5h0M401.0 573.0h0M401.0 594.0h0M401.5 573.5h0M401.5 590.5h0M402.0 571.0h0M402.0 592.0h0M402.5 568.0h0M402.5 571.0h0M403.0 554.5h0M403.0 568.5h0M403.0 594.0h0M403.5 570.5h0M403.5 591.0h0M403.5 593.0h0M404.5 569.0h0M404.5 571.0h0M404.5 590.0h0M405.0 568.5h0M405.0 591.0h0M405.5 568.5h0M406.0 589.0h0M407.0 588.5h0M407.0 589.0h0M407.5 588.0h0M408.0 570.0h0M408.0 591.0h0M408.5 586.5h0M409.0 565.0h0M409.0 566.5h0M409.5 564.0h0M409.5 590.0h0M410.0 564.5h0M410.0 567.5h0M410.0 586.0h0M410.5 565.5h0M410.5 568.0h0M410.5 586.0h0M410.5 586.5h0M411.0 566.0h0M411.0 566.5h0M411.5 584.5h0M411.5 585.5h0M412.5 561.5h0M412.5 566.5h0M412.5 567.0h0M413.0 583.5h0M413.0 584.5h0M413.0 588.0h0M413.0 590.0h0M413.5 589.5h0M414.0 584.5h0M414.5 583.0h0M415.0 560.5h0M415.0 585.0h0M415.5 565.5h0M416.5 565.0h0M417.0 562.5h0M417.0 566.5h0M417.5 583.5h0M418.0 563.5h0M418.0 565.5h0M418.0 579.5h0M419.0 565.0h0M419.0 579.0h0M419.5 563.5h0M419.5 580.5h0M420.0 562.5h0M420.5 578.5h0M421.0 580.0h0M421.0 581.0h0M421.5 562.0h0M421.5 581.5h0M422.0 561.0h0M422.0 578.0h0M422.5 563.0h0M422.5 578.5h0M423.0 562.0h0M423.5 563.5h0M423.5 576.0h0M423.5 579.0h0M424.0 575.5h0M424.5 559.0h0M424.5 561.5h0M424.5 563.5h0M425.0 557.5h0M425.0 561.0h0M425.0 575.0h0M425.0 580.5h0M425.5 558.0h0M425.5 574.5h0M426.0 552.5h0M426.0 558.5h0M426.0 559.5h0M426.0 575.5h0M426.5 558.0h0M427.0 560.0h0M427.0 580.5h0M427.5 561.0h0M427.5 575.5h0M428.0 553.0h0M428.0 559.0h0M428.0 576.0h0M428.0 578.0h0M428.5 559.0h0M428.5 576.5h0M428.5 589.5h0M429.0 551.5h0M430.5 554.5h0M430.5 555.5h0M430.5 556.0h0M431.0 575.0h0M431.0 575.5h0M432.0 556.5h0M433.0 555.0h0M433.0 572.0h0M434.0 553.5h0M434.0 555.0h0M434.5 555.0h0M434.5 571.0h0M435.0 553.0h0M435.0 569.0h0M435.0 569.5h0M436.0 570.5h0M436.0 573.5h0M436.5 551.5h0M436.5 553.5h0M436.5 567.0h0M437.0 552.0h0M437.0 567.0h0M437.0 570.0h0M437.5 552.5h0M437.5 553.0h0M438.0 552.0h0M438.5 569.5h0M438.5 570.0h0M439.0 546.0h0M439.0 554.0h0M439.0 570.0h0M439.5 546.0h0M439.5 552.0h0M440.0 554.5h0M440.0 555.5h0M440.5 552.0h0M441.5 551.0h0M441.5 568.5h0M442.0 553.0h0M442.5 566.5h0M443.0 553.5h0M443.0 566.5h0M443.0 567.0h0M444.0 565.0h0M444.0 569.0h0M445.0 552.0h0M445.0 559.0h0M445.0 564.0h0M445.5 545.0h0M445.5 551.5h0M445.5 552.0h0M446.0 552.0h0M446.5 556.5h0M446.5 557.0h0M447.0 557.0h0M447.0 561.0h0M447.0 587.0h0M447.5 562.0h0M447.5 562.5h0M447.5 563.5h0M448.0 558.0h0M448.0 559.5h0M448.0 562.0h0M448.5 542.0h0M448.5 548.5h0M449.0 548.5h0M449.0 559.0h0M449.5 545.0h0M449.5 546.5h0M449.5 548.5h0M449.5 561.0h0M449.5 564.5h0M450.0 548.5h0M450.0 559.5h0M450.0 560.0h0M450.0 563.5h0M450.5 552.0h0M451.0 547.0h0M451.5 551.5h0M451.5 559.0h0M451.5 560.0h0M451.5 564.0h0M452.0 549.5h0M452.0 550.0h0M452.0 560.5h0M452.0 562.0h0M452.5 556.5h0M452.5 561.5h0M452.5 562.5h0M453.0 547.5h0M453.0 549.5h0M453.5 557.0h0M453.5 558.5h0M453.5 564.0h0M453.5 565.0h0M453.5 566.0h0M454.0 548.0h0M454.0 559.0h0M454.0 560.5h0M454.0 561.0h0M454.5 547.5h0M455.0 556.0h0M455.5 542.5h0M455.5 548.5h0M456.0 548.0h0M456.0 549.5h0M456.0 559.5h0M456.5 545.5h0M456.5 558.5h0M457.0 561.0h0M457.5 548.0h0M457.5 557.5h0M457.5 560.5h0M457.5 561.0h0M458.0 554.5h0M458.0 558.5h0M458.5 539.0h0M458.5 554.5h0M458.5 557.5h0M458.5 558.5h0M458.5 560.0h0M459.0 542.0h0M459.0 547.5h0M459.0 557.5h0M459.5 539.0h0M459.5 546.0h0M460.0 546.0h0M460.0 554.0h0M460.0 556.5h0M460.0 557.0h0M460.5 546.0h0M460.5 558.5h0M461.0 549.5h0M461.0 551.0h0M461.5 543.0h0M461.5 544.5h0M462.0 549.5h0M462.0 556.5h0M462.5 547.0h0M462.5 556.0h0M463.0 553.5h0M463.0 556.5h0M463.5 545.0h0M463.5 547.5h0M463.5 553.0h0M463.5 553.5h0M464.0 544.5h0M464.0 545.5h0M464.0 550.5h0M464.5 540.5h0M464.5 541.5h0M464.5 545.0h0M464.5 552.5h0M465.0 547.0h0M465.0 548.5h0M465.0 551.5h0M465.5 550.0h0M465.5 551.0h0M466.0 548.0h0M466.5 542.5h0M466.5 548.0h0M466.5 550.0h0M467.0 540.0h0M467.0 540.5h0M467.0 541.5h0M467.0 545.5h0M467.0 558.5h0M467.5 546.0h0M467.5 553.0h0M468.0 541.0h0M468.0 543.0h0M468.5 548.5h0M468.5 549.0h0M468.5 550.0h0M468.5 552.5h0M468.5 555.5h0M469.0 537.0h0M469.0 545.0h0M469.0 547.0h0M469.0 551.0h0M469.0 552.0h0M469.5 534.5h0M469.5 539.5h0M469.5 544.5h0M469.5 545.0h0M469.5 547.0h0M469.5 547.5h0M470.0 547.0h0M470.0 547.5h0M470.0 548.0h0M470.5 542.0h0M470.5 543.0h0M470.5 544.0h0M470.5 545.0h0M470.5 546.5h0M470.5 549.5h0M471.0 544.0h0M471.0 545.5h0M471.0 552.0h0M471.0 562.0h0M471.5 537.0h0M471.5 542.0h0M471.5 546.0h0M471.5 547.0h0M472.0 541.0h0M472.0 542.0h0M472.0 543.0h0M472.0 547.0h0M472.5 541.0h0M472.5 542.0h0M472.5 547.5h0M473.0 540.0h0M473.0 541.5h0M473.0 542.5h0M473.0 551.5h0M474.0 533.0h0M474.0 535.5h0M474.0 538.5h0M474.0 541.5h0M474.0 545.5h0M474.0 548.5h0M474.0 553.0h0M474.5 541.5h0M474.5 543.5h0M475.0 542.5h0M475.0 545.5h0M475.5 530.0h0M475.5 541.5h0M475.5 543.0h0M475.5 546.5h0M476.0 541.0h0M476.0 543.5h0M476.5 541.5h0M476.5 544.0h0M476.5 547.0h0M476.5 551.0h0M477.0 537.5h0M477.0 540.0h0M477.0 540.5h0M477.0 541.5h0M477.0 542.5h0M477.0 547.5h0M477.5 542.5h0M478.0 534.0h0M478.0 536.0h0M478.0 538.0h0M478.0 539.5h0M478.0 540.5h0M478.5 532.0h0M478.5 533.5h0M478.5 536.0h0M478.5 537.0h0M478.5 541.5h0M479.0 545.0h0M479.5 535.0h0M479.5 542.5h0M480.0 535.0h0M480.0 537.5h0M480.0 538.0h0M480.0 543.0h0M480.5 540.0h0M481.0 531.0h0M481.0 545.0h0M481.5 537.5h0M481.5 540.5h0M481.5 544.5h0M481.5 547.0h0M482.0 536.5h0M482.0 539.0h0M482.0 540.0h0M482.5 538.5h0M482.5 541.0h0M483.0 531.5h0M483.5 532.0h0M484.0 544.5h0M484.0 545.0h0M484.5 525.5h0M485.0 535.5h0M486.5 544.5h0M487.0 531.5h0M487.0 537.5h0M487.5 540.5h0M488.0 540.0h0M488.0 543.5h0M488.5 532.0h0M488.5 533.5h0M488.5 535.5h0M488.5 539.0h0M489.0 531.0h0M489.0 534.5h0M489.0 540.0h0M489.5 530.0h0M490.0 534.0h0M490.5 539.0h0M491.0 530.0h0M491.5 536.5h0M491.5 544.5h0M492.5 526.5h0M492.5 527.5h0M493.0 532.0h0M493.0 533.0h0M493.0 533.5h0M495.0 536.5h0M495.5 546.0h0M497.5 531.0h0M498.0 533.5h0M498.5 525.5h0M498.5 533.5h0M499.0 530.0h0M499.5 523.5h0M500.5 532.5h0M501.0 529.0h0M501.0 530.5h0M503.0 528.5h0M504.0 528.5h0M504.0 533.0h0M505.5 527.5h0M506.0 525.0h0M507.0 523.0h0M511.5 527.0h0M513.5 520.5h0M514.0 525.0h0M515.0 519.5h0M517.0 521.0h0M519.5 510.5h0M523.0 508.5h0M523.5 520.0h0M525.0 511.0h0M526.0 509.0h0M527.5 507.5h0M531.0 509.5h0M532.5 516.5h0M535.0 516.0h0M538.0 503.0h0M540.5 505.0h0M544.0 502.5h0M554.5 502.0h0M533.0 508.5h0M537.2 513.4h0M543.7 512.2h0M557.1 509.7h0M585.1 486.9h0M109.0 739.0h0M158.1 712.7h0M170.4 702.9h0M180.2 686.6h0M184.0 688.0h0M186.7 692.3h0M189.2 703.0h0M191.8 706.0h0M197.0 688.6h0" stroke="rgb(65,181,55)" stroke-opacity="0.7" stroke-width="2.3" stroke-linecap="round" fill="none"/>
<line x1="61.00" y1="772.44" x2="681.93" y2="423.26" stroke="#000" stroke-opacity="0.6" stroke-width="1.5" stroke-dasharray="5.8 2.5"/>
<rect x="61.00" y="423.26" width="620.93" height="349.18" fill="none" stroke="#000" stroke-width="1.4"/>
<path d="M145.44 772.44v4.7M258.42 772.44v4.7M371.40 772.44v4.7M484.38 772.44v4.7M597.36 772.44v4.7M61.00 724.86h-4.7M61.00 661.38h-4.7M61.00 597.90h-4.7M61.00 534.42h-4.7M61.00 470.94h-4.7" stroke="#000" stroke-width="1.4" fill="none"/>
<text transform="scale(1.0867,1)" x="123.88 135.64" y="792.60" font-size="16.78" fill="#000"><tspan textLength="10.80" lengthAdjust="spacingAndGlyphs">−</tspan><tspan textLength="8.41" lengthAdjust="spacingAndGlyphs">4</tspan></text>
<text transform="scale(1.0749,1)" x="230.34 242.20" y="792.60" font-size="16.78" fill="#000"><tspan textLength="10.92" lengthAdjust="spacingAndGlyphs">−</tspan><tspan textLength="8.20" lengthAdjust="spacingAndGlyphs">2</tspan></text>
<text transform="scale(0.9804,1)" x="374.16" y="792.60" font-size="16.78" fill="#000">0</text>
<text transform="scale(0.9441,1)" x="508.18" y="792.60" font-size="16.78" fill="#000">2</text>
<text transform="scale(0.9796,1)" x="605.11" y="792.60" font-size="16.78" fill="#000">4</text>
<text transform="scale(1.0867,1)" x="27.77 39.54" y="731.01" font-size="16.78" fill="#000"><tspan textLength="10.80" lengthAdjust="spacingAndGlyphs">−</tspan><tspan textLength="8.41" lengthAdjust="spacingAndGlyphs">4</tspan></text>
<text transform="scale(1.0749,1)" x="28.07 39.93" y="667.53" font-size="16.78" fill="#000"><tspan textLength="10.92" lengthAdjust="spacingAndGlyphs">−</tspan><tspan textLength="8.20" lengthAdjust="spacingAndGlyphs">2</tspan></text>
<text transform="scale(0.9804,1)" x="43.82" y="604.05" font-size="16.78" fill="#000">0</text>
<text transform="scale(0.9441,1)" x="45.46" y="540.57" font-size="16.78" fill="#000">2</text>
<text transform="scale(0.9796,1)" x="43.85" y="477.09" font-size="16.78" fill="#000">4</text>
<text transform="scale(0.9395,1)" x="306.01 322.55 340.62 347.41 359.29 370.87 379.49 390.42 403.29 414.19 421.09 428.70 441.38 455.46 462.56 478.21" y="816.90" font-size="20.97" fill="#000">QM <tspan textLength="10.86" lengthAdjust="spacingAndGlyphs">F</tspan>o<tspan textLength="8.81" lengthAdjust="spacingAndGlyphs">r</tspan>c<tspan textLength="12.45" lengthAdjust="spacingAndGlyphs">e</tspan>s <tspan textLength="5.84" lengthAdjust="spacingAndGlyphs">(</tspan><tspan textLength="12.45" lengthAdjust="spacingAndGlyphs">e</tspan>V<tspan textLength="6.99" lengthAdjust="spacingAndGlyphs">/</tspan>Å<tspan textLength="5.84" lengthAdjust="spacingAndGlyphs">)</tspan></text>
<text transform="rotate(-90) scale(0.9533,1)" x="-731.36 -713.38 -700.76 -687.80 -675.20 -669.70 -662.97 -651.34 -639.84 -631.43 -620.27 -607.63 -597.19 -590.69 -583.84 -576.04 -563.95 -549.96 -543.07 -527.55" y="21.25" font-size="20.97" fill="#000">Model <tspan textLength="10.71" lengthAdjust="spacingAndGlyphs">F</tspan>o<tspan textLength="8.68" lengthAdjust="spacingAndGlyphs">r</tspan>ce<tspan textLength="9.81" lengthAdjust="spacingAndGlyphs">s</tspan>  <tspan textLength="5.76" lengthAdjust="spacingAndGlyphs">(</tspan>eV<tspan textLength="6.89" lengthAdjust="spacingAndGlyphs">/</tspan>Å<tspan textLength="5.76" lengthAdjust="spacingAndGlyphs">)</tspan></text>
<rect x="67.60" y="425.80" width="202.20" height="32.20" rx="5.85" fill="#fff" fill-opacity="0.5" stroke="#000" stroke-opacity="0.45" stroke-width="1.1"/>
<text transform="scale(0.9495,1)" x="77.76 91.75 109.88 122.94 135.71 142.77 159.45 166.33 179.03 185.82 198.71 212.01 224.77 231.47 243.62 257.63 264.58" y="448.00" font-size="20.97" fill="rgb(40,112,172)"><tspan textLength="14.18" lengthAdjust="spacingAndGlyphs">R</tspan>M<tspan textLength="12.20" lengthAdjust="spacingAndGlyphs">S</tspan><tspan textLength="11.88" lengthAdjust="spacingAndGlyphs">E</tspan> <tspan textLength="15.45" lengthAdjust="spacingAndGlyphs">=</tspan> 0.127 eV<tspan textLength="6.92" lengthAdjust="spacingAndGlyphs">/</tspan>Å</text>
<rect x="67.60" y="461.10" width="202.20" height="32.10" rx="5.85" fill="#fff" fill-opacity="0.5" stroke="#000" stroke-opacity="0.45" stroke-width="1.1"/>
<text transform="scale(0.9509,1)" x="77.65 91.61 109.72 122.76 135.51 142.56 159.21 166.08 178.77 185.55 198.71 211.74 224.44 231.13 243.26 257.26 264.19" y="483.20" font-size="20.97" fill="rgb(240,118,28)"><tspan textLength="14.16" lengthAdjust="spacingAndGlyphs">R</tspan>M<tspan textLength="12.18" lengthAdjust="spacingAndGlyphs">S</tspan><tspan textLength="11.86" lengthAdjust="spacingAndGlyphs">E</tspan> <tspan textLength="15.43" lengthAdjust="spacingAndGlyphs">=</tspan> 0.130 eV<tspan textLength="6.91" lengthAdjust="spacingAndGlyphs">/</tspan>Å</text>
<rect x="67.60" y="496.40" width="202.20" height="32.00" rx="5.85" fill="#fff" fill-opacity="0.5" stroke="#000" stroke-opacity="0.45" stroke-width="1.1"/>
<text transform="scale(0.9479,1)" x="77.89 91.93 110.07 123.14 135.95 143.01 159.72 166.62 179.34 186.15 199.36 212.33 225.16 231.88 244.05 258.07 265.04" y="518.20" font-size="20.97" fill="rgb(52,160,40)"><tspan textLength="14.21" lengthAdjust="spacingAndGlyphs">R</tspan>M<tspan textLength="12.22" lengthAdjust="spacingAndGlyphs">S</tspan><tspan textLength="11.90" lengthAdjust="spacingAndGlyphs">E</tspan> <tspan textLength="15.47" lengthAdjust="spacingAndGlyphs">=</tspan> 0.131 eV<tspan textLength="6.93" lengthAdjust="spacingAndGlyphs">/</tspan>Å</text>
<rect x="551.13" y="670.54" width="121.20" height="92.30" rx="3.9" fill="#fff" fill-opacity="0.8" stroke="#ccc" stroke-width="1.1"/>
<circle cx="578.13" cy="686.74" r="4.9" fill="rgb(33,108,169)" fill-opacity="0.85" stroke="rgb(33,108,169)" stroke-opacity="0.85" stroke-width="1"/>
<text transform="scale(0.8936,1)" x="686.87 703.97 718.99" y="693.14" font-size="20.97" fill="#000">GA<tspan textLength="12.89" lengthAdjust="spacingAndGlyphs">P</tspan></text>
<circle cx="578.13" cy="715.39" r="4.9" fill="rgb(229,119,16)" fill-opacity="0.7" stroke="rgb(229,119,16)" stroke-opacity="0.7" stroke-width="1"/>
<text transform="scale(0.8732,1)" x="702.79 718.05 733.74" y="721.79" font-size="20.97" fill="#000"><tspan textLength="15.01" lengthAdjust="spacingAndGlyphs">A</tspan>C<tspan textLength="12.92" lengthAdjust="spacingAndGlyphs">E</tspan></text>
<circle cx="578.13" cy="744.04" r="4.9" fill="rgb(65,181,55)" fill-opacity="0.7" stroke="rgb(65,181,55)" stroke-opacity="0.7" stroke-width="1"/>
<text transform="scale(0.8873,1)" x="692.02 706.51 722.08 735.86" y="750.44" font-size="20.97" fill="#000">AC<tspan textLength="12.71" lengthAdjust="spacingAndGlyphs">E</tspan><tspan textLength="12.41" lengthAdjust="spacingAndGlyphs">2</tspan></text>
<g fill="rgb(33,108,169)" fill-opacity="0.85" stroke="rgb(33,108,169)" stroke-opacity="0.85" stroke-width="0.8"><circle cx="321.0" cy="1048.4" r="1.05"/><circle cx="324.6" cy="1046.0" r="1.05"/><circle cx="325.3" cy="1051.0" r="1.05"/><circle cx="329.0" cy="1043.6" r="1.05"/><circle cx="331.6" cy="1041.0" r="1.05"/><circle cx="334.0" cy="1045.8" r="1.05"/><circle cx="336.0" cy="1040.5" r="1.05"/><circle cx="336.3" cy="1044.0" r="1.05"/><circle cx="337.7" cy="1042.0" r="1.05"/><circle cx="341.0" cy="1041.8" r="1.05"/><circle cx="341.2" cy="1043.0" r="1.05"/><circle cx="347.2" cy="1035.3" r="1.05"/><circle cx="348.7" cy="1036.5" r="1.05"/><circle cx="349.7" cy="1039.0" r="1.05"/><circle cx="352.3" cy="1032.6" r="1.05"/><circle cx="382.2" cy="1016.5" r="1.05"/><circle cx="383.0" cy="1014.9" r="1.05"/><circle cx="384.6" cy="1015.0" r="1.05"/><circle cx="386.2" cy="1012.3" r="1.05"/><circle cx="387.5" cy="1012.5" r="1.05"/><circle cx="389.6" cy="1011.2" r="1.05"/><circle cx="391.9" cy="1013.5" r="1.05"/><circle cx="395.5" cy="1011.0" r="1.05"/><circle cx="402.0" cy="1006.7" r="1.05"/><circle cx="561.3" cy="911.6" r="1.05"/><circle cx="563.9" cy="909.0" r="1.05"/><circle cx="567.5" cy="914.6" r="1.05"/><circle cx="567.8" cy="912.0" r="1.05"/><circle cx="570.4" cy="912.7" r="1.05"/><circle cx="570.8" cy="916.0" r="1.05"/><circle cx="572.6" cy="903.6" r="1.05"/><circle cx="576.6" cy="908.4" r="1.05"/><circle cx="587.6" cy="895.6" r="1.05"/><circle cx="607.0" cy="885.0" r="1.05"/><circle cx="608.8" cy="884.5" r="1.05"/><circle cx="611.1" cy="883.3" r="1.05"/><circle cx="613.8" cy="881.0" r="1.05"/><circle cx="622.2" cy="872.8" r="1.05"/><circle cx="634.5" cy="866.4" r="1.05"/><circle cx="636.8" cy="864.0" r="1.05"/><circle cx="638.5" cy="863.1" r="1.05"/><circle cx="650.8" cy="862.6" r="1.05"/><circle cx="108.1" cy="1176.1" r="1.05"/><circle cx="110.3" cy="1175.1" r="1.05"/><circle cx="110.0" cy="1177.9" r="1.05"/><circle cx="113.7" cy="1177.1" r="1.05"/><circle cx="107.5" cy="1183.1" r="1.05"/><circle cx="111.3" cy="1180.9" r="1.05"/><circle cx="109.9" cy="1177.0" r="1.05"/><circle cx="124.0" cy="1169.3" r="1.05"/><circle cx="124.8" cy="1171.0" r="1.05"/><circle cx="124.5" cy="1171.2" r="1.05"/><circle cx="123.4" cy="1169.7" r="1.05"/><circle cx="122.6" cy="1170.2" r="1.05"/><circle cx="122.2" cy="1168.9" r="1.05"/><circle cx="128.7" cy="1167.2" r="1.05"/><circle cx="129.3" cy="1167.2" r="1.05"/><circle cx="136.2" cy="1162.9" r="1.05"/><circle cx="137.2" cy="1165.6" r="1.05"/><circle cx="137.4" cy="1161.0" r="1.05"/><circle cx="137.6" cy="1161.3" r="1.05"/><circle cx="136.2" cy="1160.8" r="1.05"/><circle cx="141.8" cy="1159.9" r="1.05"/><circle cx="147.7" cy="1156.6" r="1.05"/><circle cx="145.7" cy="1161.2" r="1.05"/><circle cx="148.6" cy="1154.9" r="1.05"/><circle cx="147.7" cy="1154.2" r="1.05"/><circle cx="145.7" cy="1157.9" r="1.05"/><circle cx="146.9" cy="1158.2" r="1.05"/><circle cx="144.4" cy="1159.2" r="1.05"/><circle cx="145.7" cy="1156.5" r="1.05"/><circle cx="155.4" cy="1148.6" r="1.05"/><circle cx="151.9" cy="1154.7" r="1.05"/><circle cx="161.4" cy="1147.9" r="1.05"/><circle cx="166.7" cy="1146.5" r="1.05"/><circle cx="158.6" cy="1151.6" r="1.05"/><circle cx="155.1" cy="1154.5" r="1.05"/><circle cx="160.4" cy="1148.3" r="1.05"/><circle cx="169.1" cy="1147.5" r="1.05"/><circle cx="166.7" cy="1146.1" r="1.05"/><circle cx="164.7" cy="1145.9" r="1.05"/><circle cx="164.4" cy="1144.4" r="1.05"/><circle cx="161.3" cy="1151.7" r="1.05"/><circle cx="157.2" cy="1150.9" r="1.05"/><circle cx="171.1" cy="1141.8" r="1.05"/><circle cx="155.2" cy="1152.0" r="1.05"/><circle cx="164.2" cy="1142.5" r="1.05"/><circle cx="159.0" cy="1146.1" r="1.05"/><circle cx="161.5" cy="1146.0" r="1.05"/><circle cx="152.1" cy="1152.0" r="1.05"/><circle cx="159.4" cy="1148.9" r="1.05"/><circle cx="162.3" cy="1146.3" r="1.05"/><circle cx="170.2" cy="1144.1" r="1.05"/><circle cx="154.4" cy="1153.3" r="1.05"/><circle cx="167.9" cy="1146.2" r="1.05"/><circle cx="167.4" cy="1147.2" r="1.05"/><circle cx="160.5" cy="1150.9" r="1.05"/><circle cx="156.5" cy="1151.4" r="1.05"/><circle cx="161.0" cy="1148.3" r="1.05"/><circle cx="150.5" cy="1156.4" r="1.05"/><circle cx="166.9" cy="1144.2" r="1.05"/><circle cx="153.3" cy="1156.6" r="1.05"/><circle cx="154.3" cy="1151.6" r="1.05"/><circle cx="158.8" cy="1147.3" r="1.05"/><circle cx="170.6" cy="1145.9" r="1.05"/><circle cx="164.6" cy="1147.1" r="1.05"/><circle cx="163.1" cy="1147.5" r="1.05"/><circle cx="154.1" cy="1150.8" r="1.05"/><circle cx="154.9" cy="1158.4" r="1.05"/><circle cx="155.8" cy="1151.2" r="1.05"/><circle cx="165.8" cy="1145.7" r="1.05"/><circle cx="150.9" cy="1152.6" r="1.05"/><circle cx="163.6" cy="1147.9" r="1.05"/><circle cx="158.6" cy="1154.2" r="1.05"/><circle cx="161.3" cy="1149.0" r="1.05"/><circle cx="169.3" cy="1138.1" r="1.05"/><circle cx="151.7" cy="1152.2" r="1.05"/><circle cx="170.7" cy="1143.9" r="1.05"/><circle cx="167.1" cy="1144.3" r="1.05"/><circle cx="161.0" cy="1151.1" r="1.05"/><circle cx="163.4" cy="1143.7" r="1.05"/><circle cx="157.6" cy="1149.7" r="1.05"/><circle cx="165.4" cy="1145.9" r="1.05"/><circle cx="154.0" cy="1153.0" r="1.05"/><circle cx="162.6" cy="1150.0" r="1.05"/><circle cx="150.3" cy="1158.0" r="1.05"/><circle cx="177.2" cy="1139.2" r="1.05"/><circle cx="177.0" cy="1138.7" r="1.05"/></g>
<g fill="rgb(229,119,16)" fill-opacity="0.7" stroke="rgb(229,119,16)" stroke-opacity="0.7" stroke-width="0.8"><circle cx="321.0" cy="1051.5" r="1.05"/><circle cx="324.6" cy="1046.5" r="1.05"/><circle cx="325.3" cy="1053.0" r="1.05"/><circle cx="329.0" cy="1046.0" r="1.05"/><circle cx="331.6" cy="1043.5" r="1.05"/><circle cx="334.0" cy="1047.5" r="1.05"/><circle cx="336.0" cy="1037.7" r="1.05"/><circle cx="336.3" cy="1046.5" r="1.05"/><circle cx="337.7" cy="1043.0" r="1.05"/><circle cx="341.0" cy="1040.5" r="1.05"/><circle cx="341.2" cy="1042.5" r="1.05"/><circle cx="347.2" cy="1038.0" r="1.05"/><circle cx="348.7" cy="1037.0" r="1.05"/><circle cx="349.7" cy="1044.3" r="1.05"/><circle cx="352.3" cy="1034.5" r="1.05"/><circle cx="382.2" cy="1018.4" r="1.05"/><circle cx="383.0" cy="1017.0" r="1.05"/><circle cx="384.6" cy="1016.5" r="1.05"/><circle cx="386.2" cy="1013.2" r="1.05"/><circle cx="387.5" cy="1013.2" r="1.05"/><circle cx="389.6" cy="1013.0" r="1.05"/><circle cx="391.9" cy="1015.1" r="1.05"/><circle cx="395.5" cy="1012.2" r="1.05"/><circle cx="402.0" cy="1008.1" r="1.05"/><circle cx="561.3" cy="909.5" r="1.05"/><circle cx="563.9" cy="910.2" r="1.05"/><circle cx="567.5" cy="910.9" r="1.05"/><circle cx="567.8" cy="911.0" r="1.05"/><circle cx="570.4" cy="906.5" r="1.05"/><circle cx="570.8" cy="907.0" r="1.05"/><circle cx="572.6" cy="901.4" r="1.05"/><circle cx="576.6" cy="898.5" r="1.05"/><circle cx="587.6" cy="892.7" r="1.05"/><circle cx="607.0" cy="883.0" r="1.05"/><circle cx="608.8" cy="883.9" r="1.05"/><circle cx="611.1" cy="886.4" r="1.05"/><circle cx="613.8" cy="880.1" r="1.05"/><circle cx="622.2" cy="875.9" r="1.05"/><circle cx="634.5" cy="867.0" r="1.05"/><circle cx="636.8" cy="866.0" r="1.05"/><circle cx="638.5" cy="865.2" r="1.05"/><circle cx="650.8" cy="864.5" r="1.05"/><circle cx="108.1" cy="1177.1" r="1.05"/><circle cx="110.3" cy="1176.4" r="1.05"/><circle cx="110.0" cy="1179.4" r="1.05"/><circle cx="113.7" cy="1179.7" r="1.05"/><circle cx="107.5" cy="1184.0" r="1.05"/><circle cx="111.3" cy="1182.6" r="1.05"/><circle cx="109.9" cy="1179.6" r="1.05"/><circle cx="124.0" cy="1173.9" r="1.05"/><circle cx="124.8" cy="1171.8" r="1.05"/><circle cx="124.5" cy="1172.3" r="1.05"/><circle cx="123.4" cy="1172.6" r="1.05"/><circle cx="122.6" cy="1170.0" r="1.05"/><circle cx="122.2" cy="1169.9" r="1.05"/><circle cx="128.7" cy="1169.1" r="1.05"/><circle cx="129.3" cy="1170.5" r="1.05"/><circle cx="136.2" cy="1163.5" r="1.05"/><circle cx="137.2" cy="1167.2" r="1.05"/><circle cx="137.4" cy="1162.8" r="1.05"/><circle cx="137.6" cy="1163.5" r="1.05"/><circle cx="136.2" cy="1163.4" r="1.05"/><circle cx="141.8" cy="1161.2" r="1.05"/><circle cx="147.7" cy="1158.7" r="1.05"/><circle cx="145.7" cy="1160.3" r="1.05"/><circle cx="148.6" cy="1159.3" r="1.05"/><circle cx="147.7" cy="1156.6" r="1.05"/><circle cx="145.7" cy="1159.1" r="1.05"/><circle cx="146.9" cy="1160.7" r="1.05"/><circle cx="144.4" cy="1160.8" r="1.05"/><circle cx="145.7" cy="1159.6" r="1.05"/><circle cx="155.4" cy="1151.7" r="1.05"/><circle cx="151.9" cy="1156.4" r="1.05"/><circle cx="161.4" cy="1149.9" r="1.05"/><circle cx="166.7" cy="1148.4" r="1.05"/><circle cx="158.6" cy="1155.5" r="1.05"/><circle cx="155.1" cy="1156.1" r="1.05"/><circle cx="160.4" cy="1150.7" r="1.05"/><circle cx="169.1" cy="1147.4" r="1.05"/><circle cx="166.7" cy="1148.6" r="1.05"/><circle cx="164.7" cy="1146.4" r="1.05"/><circle cx="164.4" cy="1146.7" r="1.05"/><circle cx="161.3" cy="1153.3" r="1.05"/><circle cx="157.2" cy="1154.4" r="1.05"/><circle cx="171.1" cy="1144.4" r="1.05"/><circle cx="155.2" cy="1153.6" r="1.05"/><circle cx="164.2" cy="1143.5" r="1.05"/><circle cx="159.0" cy="1147.6" r="1.05"/><circle cx="161.5" cy="1148.9" r="1.05"/><circle cx="152.1" cy="1153.7" r="1.05"/><circle cx="159.4" cy="1152.3" r="1.05"/><circle cx="162.3" cy="1149.6" r="1.05"/><circle cx="170.2" cy="1147.4" r="1.05"/><circle cx="154.4" cy="1153.6" r="1.05"/><circle cx="167.9" cy="1147.2" r="1.05"/><circle cx="167.4" cy="1149.2" r="1.05"/><circle cx="160.5" cy="1152.1" r="1.05"/><circle cx="156.5" cy="1153.9" r="1.05"/><circle cx="161.0" cy="1151.0" r="1.05"/><circle cx="150.5" cy="1159.8" r="1.05"/><circle cx="166.9" cy="1146.8" r="1.05"/><circle cx="153.3" cy="1159.0" r="1.05"/><circle cx="154.3" cy="1152.3" r="1.05"/><circle cx="158.8" cy="1149.8" r="1.05"/><circle cx="170.6" cy="1146.4" r="1.05"/><circle cx="164.6" cy="1148.3" r="1.05"/><circle cx="163.1" cy="1149.4" r="1.05"/><circle cx="154.1" cy="1152.8" r="1.05"/><circle cx="154.9" cy="1158.9" r="1.05"/><circle cx="155.8" cy="1151.5" r="1.05"/><circle cx="165.8" cy="1145.8" r="1.05"/><circle cx="150.9" cy="1155.2" r="1.05"/><circle cx="163.6" cy="1148.4" r="1.05"/><circle cx="158.6" cy="1155.5" r="1.05"/><circle cx="161.3" cy="1151.5" r="1.05"/><circle cx="169.3" cy="1141.6" r="1.05"/><circle cx="151.7" cy="1153.6" r="1.05"/><circle cx="170.7" cy="1144.5" r="1.05"/><circle cx="167.1" cy="1146.3" r="1.05"/><circle cx="161.0" cy="1153.3" r="1.05"/><circle cx="163.4" cy="1145.7" r="1.05"/><circle cx="157.6" cy="1151.5" r="1.05"/><circle cx="165.4" cy="1147.0" r="1.05"/><circle cx="154.0" cy="1156.3" r="1.05"/><circle cx="162.6" cy="1151.2" r="1.05"/><circle cx="150.3" cy="1160.9" r="1.05"/><circle cx="177.2" cy="1141.5" r="1.05"/><circle cx="177.0" cy="1141.2" r="1.05"/></g>
<g fill="rgb(65,181,55)" fill-opacity="0.7" stroke="rgb(65,181,55)" stroke-opacity="0.7" stroke-width="0.8"><circle cx="321.0" cy="1052.6" r="1.05"/><circle cx="324.6" cy="1049.4" r="1.05"/><circle cx="325.3" cy="1052.0" r="1.05"/><circle cx="329.0" cy="1047.2" r="1.05"/><circle cx="331.6" cy="1044.5" r="1.05"/><circle cx="334.0" cy="1049.4" r="1.05"/><circle cx="336.0" cy="1039.9" r="1.05"/><circle cx="336.3" cy="1045.5" r="1.05"/><circle cx="337.7" cy="1044.6" r="1.05"/><circle cx="341.0" cy="1038.9" r="1.05"/><circle cx="341.2" cy="1044.3" r="1.05"/><circle cx="347.2" cy="1037.5" r="1.05"/><circle cx="348.7" cy="1038.5" r="1.05"/><circle cx="349.7" cy="1041.4" r="1.05"/><circle cx="352.3" cy="1035.5" r="1.05"/><circle cx="382.2" cy="1019.8" r="1.05"/><circle cx="383.0" cy="1018.0" r="1.05"/><circle cx="384.6" cy="1017.6" r="1.05"/><circle cx="386.2" cy="1014.7" r="1.05"/><circle cx="387.5" cy="1014.4" r="1.05"/><circle cx="389.6" cy="1014.0" r="1.05"/><circle cx="391.9" cy="1016.9" r="1.05"/><circle cx="395.5" cy="1014.0" r="1.05"/><circle cx="402.0" cy="1009.2" r="1.05"/><circle cx="561.3" cy="909.8" r="1.05"/><circle cx="563.9" cy="907.6" r="1.05"/><circle cx="567.5" cy="908.4" r="1.05"/><circle cx="567.8" cy="910.9" r="1.05"/><circle cx="570.4" cy="905.8" r="1.05"/><circle cx="570.8" cy="907.0" r="1.05"/><circle cx="572.6" cy="902.2" r="1.05"/><circle cx="576.6" cy="897.8" r="1.05"/><circle cx="587.6" cy="894.1" r="1.05"/><circle cx="607.0" cy="881.5" r="1.05"/><circle cx="608.8" cy="884.0" r="1.05"/><circle cx="611.1" cy="886.4" r="1.05"/><circle cx="613.8" cy="881.5" r="1.05"/><circle cx="622.2" cy="874.5" r="1.05"/><circle cx="634.5" cy="868.1" r="1.05"/><circle cx="636.8" cy="869.9" r="1.05"/><circle cx="638.5" cy="867.5" r="1.05"/><circle cx="650.8" cy="865.8" r="1.05"/><circle cx="108.1" cy="1176.5" r="1.05"/><circle cx="110.3" cy="1178.3" r="1.05"/><circle cx="110.0" cy="1178.5" r="1.05"/><circle cx="113.7" cy="1178.2" r="1.05"/><circle cx="107.5" cy="1183.6" r="1.05"/><circle cx="111.3" cy="1182.7" r="1.05"/><circle cx="109.9" cy="1178.6" r="1.05"/><circle cx="124.0" cy="1172.0" r="1.05"/><circle cx="124.8" cy="1170.8" r="1.05"/><circle cx="124.5" cy="1171.2" r="1.05"/><circle cx="123.4" cy="1171.8" r="1.05"/><circle cx="122.6" cy="1171.5" r="1.05"/><circle cx="122.2" cy="1170.4" r="1.05"/><circle cx="128.7" cy="1166.3" r="1.05"/><circle cx="129.3" cy="1168.0" r="1.05"/><circle cx="136.2" cy="1162.6" r="1.05"/><circle cx="137.2" cy="1166.7" r="1.05"/><circle cx="137.4" cy="1163.5" r="1.05"/><circle cx="137.6" cy="1162.9" r="1.05"/><circle cx="136.2" cy="1162.3" r="1.05"/><circle cx="141.8" cy="1161.1" r="1.05"/><circle cx="147.7" cy="1157.8" r="1.05"/><circle cx="145.7" cy="1160.8" r="1.05"/><circle cx="148.6" cy="1158.4" r="1.05"/><circle cx="147.7" cy="1156.2" r="1.05"/><circle cx="145.7" cy="1159.4" r="1.05"/><circle cx="146.9" cy="1159.6" r="1.05"/><circle cx="144.4" cy="1160.7" r="1.05"/><circle cx="145.7" cy="1157.0" r="1.05"/><circle cx="155.4" cy="1151.1" r="1.05"/><circle cx="151.9" cy="1154.7" r="1.05"/><circle cx="161.4" cy="1149.1" r="1.05"/><circle cx="166.7" cy="1148.3" r="1.05"/><circle cx="158.6" cy="1153.9" r="1.05"/><circle cx="155.1" cy="1154.7" r="1.05"/><circle cx="160.4" cy="1149.1" r="1.05"/><circle cx="169.1" cy="1146.5" r="1.05"/><circle cx="166.7" cy="1147.6" r="1.05"/><circle cx="164.7" cy="1145.5" r="1.05"/><circle cx="164.4" cy="1145.4" r="1.05"/><circle cx="161.3" cy="1152.3" r="1.05"/><circle cx="157.2" cy="1153.3" r="1.05"/><circle cx="171.1" cy="1143.1" r="1.05"/><circle cx="155.2" cy="1152.6" r="1.05"/><circle cx="164.2" cy="1144.3" r="1.05"/><circle cx="159.0" cy="1146.4" r="1.05"/><circle cx="161.5" cy="1148.3" r="1.05"/><circle cx="152.1" cy="1151.8" r="1.05"/><circle cx="159.4" cy="1150.5" r="1.05"/><circle cx="162.3" cy="1147.2" r="1.05"/><circle cx="170.2" cy="1144.8" r="1.05"/><circle cx="154.4" cy="1154.8" r="1.05"/><circle cx="167.9" cy="1146.7" r="1.05"/><circle cx="167.4" cy="1148.1" r="1.05"/><circle cx="160.5" cy="1151.9" r="1.05"/><circle cx="156.5" cy="1153.8" r="1.05"/><circle cx="161.0" cy="1148.3" r="1.05"/><circle cx="150.5" cy="1158.4" r="1.05"/><circle cx="166.9" cy="1147.6" r="1.05"/><circle cx="153.3" cy="1157.7" r="1.05"/><circle cx="154.3" cy="1151.6" r="1.05"/><circle cx="158.8" cy="1150.1" r="1.05"/><circle cx="170.6" cy="1145.0" r="1.05"/><circle cx="164.6" cy="1147.7" r="1.05"/><circle cx="163.1" cy="1148.1" r="1.05"/><circle cx="154.1" cy="1153.1" r="1.05"/><circle cx="154.9" cy="1159.2" r="1.05"/><circle cx="155.8" cy="1149.5" r="1.05"/><circle cx="165.8" cy="1144.8" r="1.05"/><circle cx="150.9" cy="1153.5" r="1.05"/><circle cx="163.6" cy="1148.6" r="1.05"/><circle cx="158.6" cy="1155.9" r="1.05"/><circle cx="161.3" cy="1149.5" r="1.05"/><circle cx="169.3" cy="1139.4" r="1.05"/><circle cx="151.7" cy="1152.0" r="1.05"/><circle cx="170.7" cy="1145.3" r="1.05"/><circle cx="167.1" cy="1146.2" r="1.05"/><circle cx="161.0" cy="1152.1" r="1.05"/><circle cx="163.4" cy="1144.6" r="1.05"/><circle cx="157.6" cy="1150.5" r="1.05"/><circle cx="165.4" cy="1147.2" r="1.05"/><circle cx="154.0" cy="1155.4" r="1.05"/><circle cx="162.6" cy="1150.6" r="1.05"/><circle cx="150.3" cy="1157.5" r="1.05"/><circle cx="177.2" cy="1140.9" r="1.05"/><circle cx="177.0" cy="1140.6" r="1.05"/></g>
<line x1="81.70" y1="1196.80" x2="678.00" y2="843.66" stroke="#000" stroke-opacity="0.6" stroke-width="1.5" stroke-dasharray="5.8 2.5"/>
<rect x="81.70" y="843.66" width="596.30" height="353.14" fill="none" stroke="#000" stroke-width="1.4"/>
<path d="M86.85 1196.80v4.7M158.91 1196.80v4.7M230.97 1196.80v4.7M303.03 1196.80v4.7M375.10 1196.80v4.7M447.16 1196.80v4.7M519.22 1196.80v4.7M591.28 1196.80v4.7M663.35 1196.80v4.7M81.70 1193.87h-4.7M81.70 1151.17h-4.7M81.70 1108.47h-4.7M81.70 1065.77h-4.7M81.70 1023.07h-4.7M81.70 980.37h-4.7M81.70 937.67h-4.7M81.70 894.97h-4.7M81.70 852.27h-4.7" stroke="#000" stroke-width="1.4" fill="none"/>
<text transform="scale(1.0130,1)" x="62.80 75.27 84.95 90.08 100.11" y="1216.80" font-size="16.78" fill="#000"><tspan textLength="11.58" lengthAdjust="spacingAndGlyphs">−</tspan>0.<tspan textLength="8.70" lengthAdjust="spacingAndGlyphs">2</tspan><tspan textLength="8.53" lengthAdjust="spacingAndGlyphs">5</tspan></text>
<text transform="scale(0.9815,1)" x="144.61 154.52 159.77 169.88" y="1216.80" font-size="16.78" fill="#000">0.00</text>
<text transform="scale(0.9533,1)" x="224.61 234.74 240.00 250.57" y="1216.80" font-size="16.78" fill="#000">0.25</text>
<text transform="scale(0.9645,1)" x="296.65 306.69 312.02 322.37" y="1216.80" font-size="16.78" fill="#000">0.50</text>
<text transform="scale(0.9577,1)" x="374.07 384.16 389.58 399.91" y="1216.80" font-size="16.78" fill="#000">0.75</text>
<text transform="scale(0.9687,1)" x="444.06 454.15 459.51 469.76" y="1216.80" font-size="16.78" fill="#000">1.00</text>
<text transform="scale(0.9394,1)" x="534.78 544.96 550.48 561.20" y="1216.80" font-size="16.78" fill="#000">1<tspan textLength="4.95" lengthAdjust="spacingAndGlyphs">.</tspan>25</text>
<text transform="scale(0.9512,1)" x="603.84 614.07 619.50 630.00" y="1216.80" font-size="16.78" fill="#000">1.50</text>
<text transform="scale(0.9439,1)" x="684.92 695.21 700.73 711.21" y="1216.80" font-size="16.78" fill="#000">1.75</text>
<text transform="scale(1.0130,1)" x="25.73 38.21 47.88 53.01 63.04" y="1200.02" font-size="16.78" fill="#000"><tspan textLength="11.58" lengthAdjust="spacingAndGlyphs">−</tspan>0.<tspan textLength="8.70" lengthAdjust="spacingAndGlyphs">2</tspan><tspan textLength="8.53" lengthAdjust="spacingAndGlyphs">5</tspan></text>
<text transform="scale(0.9815,1)" x="39.58 49.49 54.75 64.86" y="1157.32" font-size="16.78" fill="#000">0.00</text>
<text transform="scale(0.9533,1)" x="40.89 51.02 56.28 66.85" y="1114.62" font-size="16.78" fill="#000">0.25</text>
<text transform="scale(0.9645,1)" x="40.36 50.40 55.73 66.08" y="1071.92" font-size="16.78" fill="#000">0.50</text>
<text transform="scale(0.9577,1)" x="40.68 50.78 56.19 66.52" y="1029.22" font-size="16.78" fill="#000">0.75</text>
<text transform="scale(0.9687,1)" x="40.08 50.18 55.53 65.78" y="986.52" font-size="16.78" fill="#000">1.00</text>
<text transform="scale(0.9394,1)" x="41.49 51.67 57.18 67.91" y="943.82" font-size="16.78" fill="#000">1<tspan textLength="4.95" lengthAdjust="spacingAndGlyphs">.</tspan>25</text>
<text transform="scale(0.9512,1)" x="40.91 51.14 56.57 67.07" y="901.12" font-size="16.78" fill="#000">1.50</text>
<text transform="scale(0.9439,1)" x="41.27 51.56 57.08 67.56" y="858.42" font-size="16.78" fill="#000">1.75</text>
<text transform="scale(0.9576,1)" x="296.62 312.83 330.67 336.80 351.25 356.10 364.83 370.44 382.97 388.45 395.28 403.01 415.05 429.00 436.31 448.48 456.72 469.10 490.14" y="1238.90" font-size="20.97" fill="#000">QM Vi<tspan textLength="8.65" lengthAdjust="spacingAndGlyphs">r</tspan>i<tspan textLength="10.18" lengthAdjust="spacingAndGlyphs">a</tspan>l <tspan textLength="5.73" lengthAdjust="spacingAndGlyphs">(</tspan>eV<tspan textLength="6.86" lengthAdjust="spacingAndGlyphs">/</tspan><tspan textLength="10.18" lengthAdjust="spacingAndGlyphs">a</tspan><tspan textLength="7.54" lengthAdjust="spacingAndGlyphs">t</tspan>o<tspan textLength="19.31" lengthAdjust="spacingAndGlyphs">m</tspan><tspan textLength="5.73" lengthAdjust="spacingAndGlyphs">)</tspan></text>
<text transform="rotate(-90) scale(0.9687,1)" x="-1165.54 -1147.80 -1135.38 -1122.63 -1110.18 -1104.77 -1098.76 -1084.42 -1079.60 -1070.99 -1065.42 -1053.06 -1047.66 -1040.87 -1033.29 -1021.41 -1007.54 -1000.31 -988.28 -980.20 -967.89 -947.09" y="17.25" font-size="20.97" fill="#000">Model Vi<tspan textLength="8.55" lengthAdjust="spacingAndGlyphs">r</tspan>i<tspan textLength="10.06" lengthAdjust="spacingAndGlyphs">a</tspan>l <tspan textLength="5.67" lengthAdjust="spacingAndGlyphs">(</tspan>eV<tspan textLength="6.78" lengthAdjust="spacingAndGlyphs">/</tspan><tspan textLength="10.06" lengthAdjust="spacingAndGlyphs">a</tspan><tspan textLength="7.45" lengthAdjust="spacingAndGlyphs">t</tspan>o<tspan textLength="19.09" lengthAdjust="spacingAndGlyphs">m</tspan><tspan textLength="5.67" lengthAdjust="spacingAndGlyphs">)</tspan></text>
<rect x="87.60" y="846.80" width="182.50" height="30.40" rx="5.85" fill="#fff" fill-opacity="0.5" stroke="#000" stroke-opacity="0.45" stroke-width="1.1"/>
<text transform="scale(0.9429,1)" x="99.06 113.66 131.85 145.00 157.88 164.97 181.79 188.73 201.51 208.46 221.52 234.70 247.56 253.96 266.58" y="867.40" font-size="20.97" fill="rgb(40,112,172)">RM<tspan textLength="12.28" lengthAdjust="spacingAndGlyphs">S</tspan><tspan textLength="11.96" lengthAdjust="spacingAndGlyphs">E</tspan> <tspan textLength="15.56" lengthAdjust="spacingAndGlyphs">=</tspan> 0.015 <tspan textLength="12.41" lengthAdjust="spacingAndGlyphs">e</tspan>V</text>
<rect x="87.60" y="882.10" width="182.50" height="30.40" rx="5.85" fill="#fff" fill-opacity="0.5" stroke="#000" stroke-opacity="0.45" stroke-width="1.1"/>
<text transform="scale(0.9444,1)" x="98.89 113.48 131.65 144.78 157.64 164.72 181.50 188.43 201.19 208.13 221.17 234.13 247.18 253.57 266.16" y="902.70" font-size="20.97" fill="rgb(240,118,28)">RM<tspan textLength="12.27" lengthAdjust="spacingAndGlyphs">S</tspan><tspan textLength="11.94" lengthAdjust="spacingAndGlyphs">E</tspan> <tspan textLength="15.53" lengthAdjust="spacingAndGlyphs">=</tspan> 0.012 <tspan textLength="12.39" lengthAdjust="spacingAndGlyphs">e</tspan>V</text>
<rect x="87.60" y="917.40" width="182.50" height="30.40" rx="5.85" fill="#fff" fill-opacity="0.5" stroke="#000" stroke-opacity="0.45" stroke-width="1.1"/>
<text transform="scale(0.9438,1)" x="98.96 113.55 131.73 144.87 157.73 164.82 181.61 188.55 201.32 208.26 221.31 234.46 247.33 253.73 266.32" y="938.00" font-size="20.97" fill="rgb(52,160,40)">RM<tspan textLength="12.27" lengthAdjust="spacingAndGlyphs">S</tspan><tspan textLength="11.95" lengthAdjust="spacingAndGlyphs">E</tspan> <tspan textLength="15.54" lengthAdjust="spacingAndGlyphs">=</tspan> 0.011 <tspan textLength="12.40" lengthAdjust="spacingAndGlyphs">e</tspan>V</text>
<rect x="547.20" y="1094.90" width="121.20" height="92.30" rx="3.9" fill="#fff" fill-opacity="0.8" stroke="#ccc" stroke-width="1.1"/>
<circle cx="574.20" cy="1111.10" r="4.9" fill="rgb(33,108,169)" fill-opacity="0.85" stroke="rgb(33,108,169)" stroke-opacity="0.85" stroke-width="1"/>
<text transform="scale(0.8936,1)" x="682.47 699.58 714.59" y="1117.50" font-size="20.97" fill="#000">GA<tspan textLength="12.89" lengthAdjust="spacingAndGlyphs">P</tspan></text>
<circle cx="574.20" cy="1139.75" r="4.9" fill="rgb(229,119,16)" fill-opacity="0.7" stroke="rgb(229,119,16)" stroke-opacity="0.7" stroke-width="1"/>
<text transform="scale(0.8732,1)" x="698.29 713.55 729.24" y="1146.15" font-size="20.97" fill="#000"><tspan textLength="15.01" lengthAdjust="spacingAndGlyphs">A</tspan>C<tspan textLength="12.92" lengthAdjust="spacingAndGlyphs">E</tspan></text>
<circle cx="574.20" cy="1168.40" r="4.9" fill="rgb(65,181,55)" fill-opacity="0.7" stroke="rgb(65,181,55)" stroke-opacity="0.7" stroke-width="1"/>
<text transform="scale(0.8873,1)" x="687.59 702.08 717.65 731.43" y="1174.80" font-size="20.97" fill="#000">AC<tspan textLength="12.71" lengthAdjust="spacingAndGlyphs">E</tspan><tspan textLength="12.41" lengthAdjust="spacingAndGlyphs">2</tspan></text>
</svg></body></html>
